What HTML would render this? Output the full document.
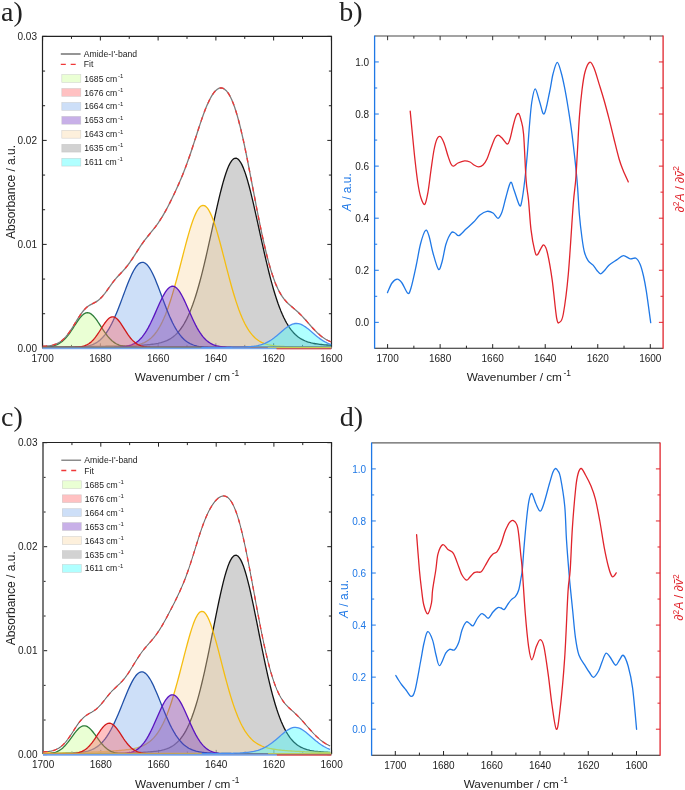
<!DOCTYPE html><html><head><meta charset="utf-8"><style>html,body{margin:0;padding:0;background:#fff;}svg{display:block;will-change:transform;}</style></head><body>
<svg width="685" height="790" viewBox="0 0 685 790" font-family='"Liberation Sans", sans-serif' fill="#222">
<rect width="685" height="790" fill="#fff"/>
<line x1="42.60" y1="347.5" x2="42.60" y2="343.3" stroke="#333" stroke-width="1"/>
<line x1="42.60" y1="36.3" x2="42.60" y2="40.5" stroke="#222" stroke-width="1"/>
<text x="42.60" y="361.70" text-anchor="middle" font-size="10">1700</text>
<line x1="71.48" y1="347.5" x2="71.48" y2="344.9" stroke="#333" stroke-width="1"/>
<line x1="71.48" y1="36.3" x2="71.48" y2="38.9" stroke="#222" stroke-width="1"/>
<line x1="100.36" y1="347.5" x2="100.36" y2="343.3" stroke="#333" stroke-width="1"/>
<line x1="100.36" y1="36.3" x2="100.36" y2="40.5" stroke="#222" stroke-width="1"/>
<text x="100.36" y="361.70" text-anchor="middle" font-size="10">1680</text>
<line x1="129.24" y1="347.5" x2="129.24" y2="344.9" stroke="#333" stroke-width="1"/>
<line x1="129.24" y1="36.3" x2="129.24" y2="38.9" stroke="#222" stroke-width="1"/>
<line x1="158.12" y1="347.5" x2="158.12" y2="343.3" stroke="#333" stroke-width="1"/>
<line x1="158.12" y1="36.3" x2="158.12" y2="40.5" stroke="#222" stroke-width="1"/>
<text x="158.12" y="361.70" text-anchor="middle" font-size="10">1660</text>
<line x1="187.00" y1="347.5" x2="187.00" y2="344.9" stroke="#333" stroke-width="1"/>
<line x1="187.00" y1="36.3" x2="187.00" y2="38.9" stroke="#222" stroke-width="1"/>
<line x1="215.88" y1="347.5" x2="215.88" y2="343.3" stroke="#333" stroke-width="1"/>
<line x1="215.88" y1="36.3" x2="215.88" y2="40.5" stroke="#222" stroke-width="1"/>
<text x="215.88" y="361.70" text-anchor="middle" font-size="10">1640</text>
<line x1="244.76" y1="347.5" x2="244.76" y2="344.9" stroke="#333" stroke-width="1"/>
<line x1="244.76" y1="36.3" x2="244.76" y2="38.9" stroke="#222" stroke-width="1"/>
<line x1="273.64" y1="347.5" x2="273.64" y2="343.3" stroke="#333" stroke-width="1"/>
<line x1="273.64" y1="36.3" x2="273.64" y2="40.5" stroke="#222" stroke-width="1"/>
<text x="273.64" y="361.70" text-anchor="middle" font-size="10">1620</text>
<line x1="302.52" y1="347.5" x2="302.52" y2="344.9" stroke="#333" stroke-width="1"/>
<line x1="302.52" y1="36.3" x2="302.52" y2="38.9" stroke="#222" stroke-width="1"/>
<line x1="331.40" y1="347.5" x2="331.40" y2="343.3" stroke="#333" stroke-width="1"/>
<line x1="331.40" y1="36.3" x2="331.40" y2="40.5" stroke="#222" stroke-width="1"/>
<text x="331.40" y="361.70" text-anchor="middle" font-size="10">1600</text>
<line x1="42.5" y1="348.40" x2="46.7" y2="348.40" stroke="#222" stroke-width="1"/>
<line x1="331.5" y1="348.40" x2="327.3" y2="348.40" stroke="#222" stroke-width="1"/>
<text x="37.00" y="352.10" text-anchor="end" font-size="10">0.00</text>
<line x1="42.5" y1="313.73" x2="45.1" y2="313.73" stroke="#222" stroke-width="1"/>
<line x1="331.5" y1="313.73" x2="328.9" y2="313.73" stroke="#222" stroke-width="1"/>
<line x1="42.5" y1="279.07" x2="45.1" y2="279.07" stroke="#222" stroke-width="1"/>
<line x1="331.5" y1="279.07" x2="328.9" y2="279.07" stroke="#222" stroke-width="1"/>
<line x1="42.5" y1="244.40" x2="46.7" y2="244.40" stroke="#222" stroke-width="1"/>
<line x1="331.5" y1="244.40" x2="327.3" y2="244.40" stroke="#222" stroke-width="1"/>
<text x="37.00" y="248.10" text-anchor="end" font-size="10">0.01</text>
<line x1="42.5" y1="209.73" x2="45.1" y2="209.73" stroke="#222" stroke-width="1"/>
<line x1="331.5" y1="209.73" x2="328.9" y2="209.73" stroke="#222" stroke-width="1"/>
<line x1="42.5" y1="175.07" x2="45.1" y2="175.07" stroke="#222" stroke-width="1"/>
<line x1="331.5" y1="175.07" x2="328.9" y2="175.07" stroke="#222" stroke-width="1"/>
<line x1="42.5" y1="140.40" x2="46.7" y2="140.40" stroke="#222" stroke-width="1"/>
<line x1="331.5" y1="140.40" x2="327.3" y2="140.40" stroke="#222" stroke-width="1"/>
<text x="37.00" y="144.10" text-anchor="end" font-size="10">0.02</text>
<line x1="42.5" y1="105.73" x2="45.1" y2="105.73" stroke="#222" stroke-width="1"/>
<line x1="331.5" y1="105.73" x2="328.9" y2="105.73" stroke="#222" stroke-width="1"/>
<line x1="42.5" y1="71.07" x2="45.1" y2="71.07" stroke="#222" stroke-width="1"/>
<line x1="331.5" y1="71.07" x2="328.9" y2="71.07" stroke="#222" stroke-width="1"/>
<line x1="42.5" y1="36.40" x2="46.7" y2="36.40" stroke="#222" stroke-width="1"/>
<line x1="331.5" y1="36.40" x2="327.3" y2="36.40" stroke="#222" stroke-width="1"/>
<text x="37.00" y="40.10" text-anchor="end" font-size="10">0.03</text>
<path d="M42.5,347.5 L42.5,36.3 L331.5,36.3 L331.5,347.5" fill="none" stroke="#222" stroke-width="1.2" stroke-linejoin="miter"/>
<clipPath id="clipa"><rect x="42.5" y="36.3" width="289.0" height="313.4"/></clipPath>
<g clip-path="url(#clipa)">
<path d="M42.60,346.93 L44.04,346.93 L45.49,346.92 L46.93,346.91 L48.38,346.90 L49.82,346.89 L51.26,346.88 L52.71,346.87 L54.15,346.86 L55.60,346.85 L57.04,346.84 L58.48,346.83 L59.93,346.82 L61.37,346.81 L62.82,346.80 L64.26,346.79 L65.70,346.77 L67.15,346.76 L68.59,346.75 L70.04,346.74 L71.48,346.72 L72.92,346.71 L74.37,346.70 L75.81,346.68 L77.26,346.67 L78.70,346.65 L80.14,346.64 L81.59,346.62 L83.03,346.61 L84.48,346.59 L85.92,346.57 L87.36,346.55 L88.81,346.54 L90.25,346.52 L91.70,346.50 L93.14,346.48 L94.58,346.46 L96.03,346.44 L97.47,346.42 L98.92,346.39 L100.36,346.37 L101.80,346.35 L103.25,346.32 L104.69,346.30 L106.14,346.27 L107.58,346.25 L109.02,346.22 L110.47,346.19 L111.91,346.16 L113.36,346.13 L114.80,346.10 L116.24,346.07 L117.69,346.03 L119.13,346.00 L120.58,345.96 L122.02,345.93 L123.46,345.89 L124.91,345.85 L126.35,345.80 L127.80,345.76 L129.24,345.71 L130.68,345.66 L132.13,345.61 L133.57,345.56 L135.02,345.50 L136.46,345.43 L137.90,345.37 L139.35,345.30 L140.79,345.22 L142.24,345.13 L143.68,345.04 L145.12,344.94 L146.57,344.83 L148.01,344.71 L149.46,344.57 L150.90,344.41 L152.34,344.24 L153.79,344.05 L155.23,343.83 L156.68,343.58 L158.12,343.30 L159.56,342.98 L161.01,342.61 L162.45,342.20 L163.90,341.73 L165.34,341.20 L166.78,340.59 L168.23,339.90 L169.67,339.12 L171.12,338.24 L172.56,337.25 L174.00,336.13 L175.45,334.88 L176.89,333.48 L178.34,331.91 L179.78,330.17 L181.22,328.24 L182.67,326.11 L184.11,323.76 L185.56,321.19 L187.00,318.37 L188.44,315.30 L189.89,311.98 L191.33,308.38 L192.78,304.52 L194.22,300.37 L195.66,295.95 L197.11,291.24 L198.55,286.27 L200.00,281.03 L201.44,275.54 L202.88,269.82 L204.33,263.87 L205.77,257.73 L207.22,251.43 L208.66,244.98 L210.10,238.44 L211.55,231.83 L212.99,225.20 L214.44,218.60 L215.88,212.08 L217.32,205.67 L218.77,199.45 L220.21,193.46 L221.66,187.77 L223.10,182.42 L224.54,177.47 L225.99,172.98 L227.43,169.01 L228.88,165.59 L230.32,162.78 L231.76,160.60 L233.21,159.10 L234.65,158.29 L236.10,158.17 L237.54,158.77 L238.98,160.06 L240.43,162.02 L241.87,164.64 L243.32,167.87 L244.76,171.67 L246.20,176.01 L247.65,180.81 L249.09,186.04 L250.54,191.64 L251.98,197.54 L253.42,203.69 L254.87,210.05 L256.31,216.54 L257.76,223.12 L259.20,229.75 L260.64,236.36 L262.09,242.93 L263.53,249.41 L264.98,255.76 L266.42,261.96 L267.86,267.97 L269.31,273.76 L270.75,279.33 L272.20,284.65 L273.64,289.71 L275.08,294.50 L276.53,299.01 L277.97,303.24 L279.42,307.20 L280.86,310.88 L282.30,314.29 L283.75,317.43 L285.19,320.33 L286.64,322.98 L288.08,325.39 L289.52,327.59 L290.97,329.58 L292.41,331.38 L293.86,333.00 L295.30,334.45 L296.74,335.75 L298.19,336.91 L299.63,337.94 L301.08,338.86 L302.52,339.66 L303.96,340.38 L305.41,341.01 L306.85,341.57 L308.30,342.06 L309.74,342.49 L311.18,342.87 L312.63,343.20 L314.07,343.49 L315.52,343.75 L316.96,343.98 L318.40,344.18 L319.85,344.36 L321.29,344.52 L322.74,344.66 L324.18,344.79 L325.62,344.91 L327.07,345.01 L328.51,345.11 L329.96,345.19 L331.40,345.27 L331.40,348.40 L42.60,348.40 Z" fill="#8e8e8e" fill-opacity="0.4" stroke="none"/>
<path d="M42.60,346.93 L44.04,346.93 L45.49,346.92 L46.93,346.91 L48.38,346.90 L49.82,346.89 L51.26,346.88 L52.71,346.87 L54.15,346.86 L55.60,346.85 L57.04,346.84 L58.48,346.83 L59.93,346.82 L61.37,346.81 L62.82,346.80 L64.26,346.79 L65.70,346.77 L67.15,346.76 L68.59,346.75 L70.04,346.74 L71.48,346.72 L72.92,346.71 L74.37,346.70 L75.81,346.68 L77.26,346.67 L78.70,346.65 L80.14,346.64 L81.59,346.62 L83.03,346.61 L84.48,346.59 L85.92,346.57 L87.36,346.55 L88.81,346.54 L90.25,346.52 L91.70,346.50 L93.14,346.48 L94.58,346.46 L96.03,346.44 L97.47,346.42 L98.92,346.39 L100.36,346.37 L101.80,346.35 L103.25,346.32 L104.69,346.30 L106.14,346.27 L107.58,346.25 L109.02,346.22 L110.47,346.19 L111.91,346.16 L113.36,346.13 L114.80,346.10 L116.24,346.07 L117.69,346.03 L119.13,346.00 L120.58,345.96 L122.02,345.93 L123.46,345.89 L124.91,345.85 L126.35,345.80 L127.80,345.76 L129.24,345.71 L130.68,345.66 L132.13,345.61 L133.57,345.56 L135.02,345.50 L136.46,345.43 L137.90,345.37 L139.35,345.30 L140.79,345.22 L142.24,345.13 L143.68,345.04 L145.12,344.94 L146.57,344.83 L148.01,344.71 L149.46,344.57 L150.90,344.41 L152.34,344.24 L153.79,344.05 L155.23,343.83 L156.68,343.58 L158.12,343.30 L159.56,342.98 L161.01,342.61 L162.45,342.20 L163.90,341.73 L165.34,341.20 L166.78,340.59 L168.23,339.90 L169.67,339.12 L171.12,338.24 L172.56,337.25 L174.00,336.13 L175.45,334.88 L176.89,333.48 L178.34,331.91 L179.78,330.17 L181.22,328.24 L182.67,326.11 L184.11,323.76 L185.56,321.19 L187.00,318.37 L188.44,315.30 L189.89,311.98 L191.33,308.38 L192.78,304.52 L194.22,300.37 L195.66,295.95 L197.11,291.24 L198.55,286.27 L200.00,281.03 L201.44,275.54 L202.88,269.82 L204.33,263.87 L205.77,257.73 L207.22,251.43 L208.66,244.98 L210.10,238.44 L211.55,231.83 L212.99,225.20 L214.44,218.60 L215.88,212.08 L217.32,205.67 L218.77,199.45 L220.21,193.46 L221.66,187.77 L223.10,182.42 L224.54,177.47 L225.99,172.98 L227.43,169.01 L228.88,165.59 L230.32,162.78 L231.76,160.60 L233.21,159.10 L234.65,158.29 L236.10,158.17 L237.54,158.77 L238.98,160.06 L240.43,162.02 L241.87,164.64 L243.32,167.87 L244.76,171.67 L246.20,176.01 L247.65,180.81 L249.09,186.04 L250.54,191.64 L251.98,197.54 L253.42,203.69 L254.87,210.05 L256.31,216.54 L257.76,223.12 L259.20,229.75 L260.64,236.36 L262.09,242.93 L263.53,249.41 L264.98,255.76 L266.42,261.96 L267.86,267.97 L269.31,273.76 L270.75,279.33 L272.20,284.65 L273.64,289.71 L275.08,294.50 L276.53,299.01 L277.97,303.24 L279.42,307.20 L280.86,310.88 L282.30,314.29 L283.75,317.43 L285.19,320.33 L286.64,322.98 L288.08,325.39 L289.52,327.59 L290.97,329.58 L292.41,331.38 L293.86,333.00 L295.30,334.45 L296.74,335.75 L298.19,336.91 L299.63,337.94 L301.08,338.86 L302.52,339.66 L303.96,340.38 L305.41,341.01 L306.85,341.57 L308.30,342.06 L309.74,342.49 L311.18,342.87 L312.63,343.20 L314.07,343.49 L315.52,343.75 L316.96,343.98 L318.40,344.18 L319.85,344.36 L321.29,344.52 L322.74,344.66 L324.18,344.79 L325.62,344.91 L327.07,345.01 L328.51,345.11 L329.96,345.19 L331.40,345.27" fill="none" stroke="#111111" stroke-width="1.3" stroke-linejoin="round"/>
<path d="M42.60,347.27 L44.04,347.27 L45.49,347.26 L46.93,347.26 L48.38,347.25 L49.82,347.25 L51.26,347.25 L52.71,347.24 L54.15,347.24 L55.60,347.23 L57.04,347.23 L58.48,347.22 L59.93,347.21 L61.37,347.21 L62.82,347.20 L64.26,347.20 L65.70,347.19 L67.15,347.18 L68.59,347.18 L70.04,347.17 L71.48,347.16 L72.92,347.16 L74.37,347.15 L75.81,347.14 L77.26,347.13 L78.70,347.13 L80.14,347.12 L81.59,347.11 L83.03,347.10 L84.48,347.09 L85.92,347.08 L87.36,347.07 L88.81,347.06 L90.25,347.05 L91.70,347.04 L93.14,347.03 L94.58,347.01 L96.03,347.00 L97.47,346.99 L98.92,346.97 L100.36,346.96 L101.80,346.94 L103.25,346.93 L104.69,346.91 L106.14,346.89 L107.58,346.87 L109.02,346.85 L110.47,346.83 L111.91,346.81 L113.36,346.78 L114.80,346.75 L116.24,346.72 L117.69,346.68 L119.13,346.64 L120.58,346.59 L122.02,346.53 L123.46,346.47 L124.91,346.39 L126.35,346.31 L127.80,346.20 L129.24,346.08 L130.68,345.94 L132.13,345.77 L133.57,345.57 L135.02,345.34 L136.46,345.07 L137.90,344.75 L139.35,344.37 L140.79,343.93 L142.24,343.41 L143.68,342.81 L145.12,342.12 L146.57,341.32 L148.01,340.40 L149.46,339.34 L150.90,338.14 L152.34,336.78 L153.79,335.24 L155.23,333.51 L156.68,331.57 L158.12,329.41 L159.56,327.02 L161.01,324.39 L162.45,321.50 L163.90,318.35 L165.34,314.93 L166.78,311.24 L168.23,307.28 L169.67,303.06 L171.12,298.59 L172.56,293.87 L174.00,288.93 L175.45,283.79 L176.89,278.48 L178.34,273.03 L179.78,267.47 L181.22,261.85 L182.67,256.22 L184.11,250.62 L185.56,245.11 L187.00,239.73 L188.44,234.56 L189.89,229.64 L191.33,225.03 L192.78,220.79 L194.22,216.97 L195.66,213.62 L197.11,210.79 L198.55,208.52 L200.00,206.85 L201.44,205.79 L202.88,205.36 L204.33,205.57 L205.77,206.42 L207.22,207.89 L208.66,209.97 L210.10,212.61 L211.55,215.79 L212.99,219.45 L214.44,223.56 L215.88,228.05 L217.32,232.88 L218.77,237.97 L220.21,243.29 L221.66,248.76 L223.10,254.33 L224.54,259.96 L225.99,265.59 L227.43,271.17 L228.88,276.66 L230.32,282.03 L231.76,287.23 L233.21,292.24 L234.65,297.03 L236.10,301.59 L237.54,305.90 L238.98,309.94 L240.43,313.72 L241.87,317.23 L243.32,320.47 L244.76,323.45 L246.20,326.17 L247.65,328.64 L249.09,330.87 L250.54,332.88 L251.98,334.68 L253.42,336.28 L254.87,337.70 L256.31,338.96 L257.76,340.06 L259.20,341.02 L260.64,341.86 L262.09,342.59 L263.53,343.22 L264.98,343.76 L266.42,344.23 L267.86,344.63 L269.31,344.97 L270.75,345.25 L272.20,345.50 L273.64,345.71 L275.08,345.89 L276.53,346.04 L277.97,346.16 L279.42,346.27 L280.86,346.36 L282.30,346.44 L283.75,346.51 L285.19,346.57 L286.64,346.62 L288.08,346.66 L289.52,346.70 L290.97,346.74 L292.41,346.77 L293.86,346.80 L295.30,346.82 L296.74,346.84 L298.19,346.87 L299.63,346.89 L301.08,346.90 L302.52,346.92 L303.96,346.94 L305.41,346.95 L306.85,346.97 L308.30,346.98 L309.74,347.00 L311.18,347.01 L312.63,347.02 L314.07,347.03 L315.52,347.04 L316.96,347.06 L318.40,347.07 L319.85,347.08 L321.29,347.09 L322.74,347.10 L324.18,347.11 L325.62,347.11 L327.07,347.12 L328.51,347.13 L329.96,347.14 L331.40,347.15 L331.40,348.40 L42.60,348.40 Z" fill="#fad9a7" fill-opacity="0.4" stroke="none"/>
<path d="M42.60,347.27 L44.04,347.27 L45.49,347.26 L46.93,347.26 L48.38,347.25 L49.82,347.25 L51.26,347.25 L52.71,347.24 L54.15,347.24 L55.60,347.23 L57.04,347.23 L58.48,347.22 L59.93,347.21 L61.37,347.21 L62.82,347.20 L64.26,347.20 L65.70,347.19 L67.15,347.18 L68.59,347.18 L70.04,347.17 L71.48,347.16 L72.92,347.16 L74.37,347.15 L75.81,347.14 L77.26,347.13 L78.70,347.13 L80.14,347.12 L81.59,347.11 L83.03,347.10 L84.48,347.09 L85.92,347.08 L87.36,347.07 L88.81,347.06 L90.25,347.05 L91.70,347.04 L93.14,347.03 L94.58,347.01 L96.03,347.00 L97.47,346.99 L98.92,346.97 L100.36,346.96 L101.80,346.94 L103.25,346.93 L104.69,346.91 L106.14,346.89 L107.58,346.87 L109.02,346.85 L110.47,346.83 L111.91,346.81 L113.36,346.78 L114.80,346.75 L116.24,346.72 L117.69,346.68 L119.13,346.64 L120.58,346.59 L122.02,346.53 L123.46,346.47 L124.91,346.39 L126.35,346.31 L127.80,346.20 L129.24,346.08 L130.68,345.94 L132.13,345.77 L133.57,345.57 L135.02,345.34 L136.46,345.07 L137.90,344.75 L139.35,344.37 L140.79,343.93 L142.24,343.41 L143.68,342.81 L145.12,342.12 L146.57,341.32 L148.01,340.40 L149.46,339.34 L150.90,338.14 L152.34,336.78 L153.79,335.24 L155.23,333.51 L156.68,331.57 L158.12,329.41 L159.56,327.02 L161.01,324.39 L162.45,321.50 L163.90,318.35 L165.34,314.93 L166.78,311.24 L168.23,307.28 L169.67,303.06 L171.12,298.59 L172.56,293.87 L174.00,288.93 L175.45,283.79 L176.89,278.48 L178.34,273.03 L179.78,267.47 L181.22,261.85 L182.67,256.22 L184.11,250.62 L185.56,245.11 L187.00,239.73 L188.44,234.56 L189.89,229.64 L191.33,225.03 L192.78,220.79 L194.22,216.97 L195.66,213.62 L197.11,210.79 L198.55,208.52 L200.00,206.85 L201.44,205.79 L202.88,205.36 L204.33,205.57 L205.77,206.42 L207.22,207.89 L208.66,209.97 L210.10,212.61 L211.55,215.79 L212.99,219.45 L214.44,223.56 L215.88,228.05 L217.32,232.88 L218.77,237.97 L220.21,243.29 L221.66,248.76 L223.10,254.33 L224.54,259.96 L225.99,265.59 L227.43,271.17 L228.88,276.66 L230.32,282.03 L231.76,287.23 L233.21,292.24 L234.65,297.03 L236.10,301.59 L237.54,305.90 L238.98,309.94 L240.43,313.72 L241.87,317.23 L243.32,320.47 L244.76,323.45 L246.20,326.17 L247.65,328.64 L249.09,330.87 L250.54,332.88 L251.98,334.68 L253.42,336.28 L254.87,337.70 L256.31,338.96 L257.76,340.06 L259.20,341.02 L260.64,341.86 L262.09,342.59 L263.53,343.22 L264.98,343.76 L266.42,344.23 L267.86,344.63 L269.31,344.97 L270.75,345.25 L272.20,345.50 L273.64,345.71 L275.08,345.89 L276.53,346.04 L277.97,346.16 L279.42,346.27 L280.86,346.36 L282.30,346.44 L283.75,346.51 L285.19,346.57 L286.64,346.62 L288.08,346.66 L289.52,346.70 L290.97,346.74 L292.41,346.77 L293.86,346.80 L295.30,346.82 L296.74,346.84 L298.19,346.87 L299.63,346.89 L301.08,346.90 L302.52,346.92 L303.96,346.94 L305.41,346.95 L306.85,346.97 L308.30,346.98 L309.74,347.00 L311.18,347.01 L312.63,347.02 L314.07,347.03 L315.52,347.04 L316.96,347.06 L318.40,347.07 L319.85,347.08 L321.29,347.09 L322.74,347.10 L324.18,347.11 L325.62,347.11 L327.07,347.12 L328.51,347.13 L329.96,347.14 L331.40,347.15" fill="none" stroke="#f5bd10" stroke-width="1.3" stroke-linejoin="round"/>
<path d="M42.60,347.50 L44.04,347.50 L45.49,347.50 L46.93,347.50 L48.38,347.50 L49.82,347.50 L51.26,347.50 L52.71,347.50 L54.15,347.50 L55.60,347.50 L57.04,347.50 L58.48,347.49 L59.93,347.49 L61.37,347.49 L62.82,347.48 L64.26,347.48 L65.70,347.47 L67.15,347.46 L68.59,347.45 L70.04,347.43 L71.48,347.41 L72.92,347.38 L74.37,347.34 L75.81,347.29 L77.26,347.23 L78.70,347.15 L80.14,347.05 L81.59,346.93 L83.03,346.78 L84.48,346.59 L85.92,346.36 L87.36,346.08 L88.81,345.75 L90.25,345.35 L91.70,344.87 L93.14,344.30 L94.58,343.63 L96.03,342.85 L97.47,341.94 L98.92,340.90 L100.36,339.70 L101.80,338.33 L103.25,336.78 L104.69,335.04 L106.14,333.11 L107.58,330.96 L109.02,328.60 L110.47,326.03 L111.91,323.25 L113.36,320.26 L114.80,317.07 L116.24,313.70 L117.69,310.17 L119.13,306.50 L120.58,302.72 L122.02,298.88 L123.46,295.00 L124.91,291.12 L126.35,287.31 L127.80,283.60 L129.24,280.04 L130.68,276.68 L132.13,273.58 L133.57,270.77 L135.02,268.30 L136.46,266.22 L137.90,264.55 L139.35,263.33 L140.79,262.56 L142.24,262.28 L143.68,262.47 L145.12,263.14 L146.57,264.27 L148.01,265.86 L149.46,267.86 L150.90,270.25 L152.34,273.00 L153.79,276.05 L155.23,279.36 L156.68,282.88 L158.12,286.57 L159.56,290.37 L161.01,294.23 L162.45,298.11 L163.90,301.97 L165.34,305.76 L166.78,309.45 L168.23,313.01 L169.67,316.42 L171.12,319.64 L172.56,322.67 L174.00,325.50 L175.45,328.11 L176.89,330.51 L178.34,332.70 L179.78,334.68 L181.22,336.45 L182.67,338.04 L184.11,339.44 L185.56,340.67 L187.00,341.75 L188.44,342.68 L189.89,343.49 L191.33,344.18 L192.78,344.76 L194.22,345.26 L195.66,345.68 L197.11,346.02 L198.55,346.31 L200.00,346.55 L201.44,346.74 L202.88,346.90 L204.33,347.03 L205.77,347.13 L207.22,347.21 L208.66,347.28 L210.10,347.33 L211.55,347.37 L212.99,347.40 L214.44,347.42 L215.88,347.44 L217.32,347.46 L218.77,347.47 L220.21,347.48 L221.66,347.48 L223.10,347.49 L224.54,347.49 L225.99,347.49 L227.43,347.50 L228.88,347.50 L230.32,347.50 L231.76,347.50 L233.21,347.50 L234.65,347.50 L236.10,347.50 L237.54,347.50 L238.98,347.50 L240.43,347.50 L241.87,347.50 L243.32,347.50 L244.76,347.50 L246.20,347.50 L247.65,347.50 L249.09,347.50 L250.54,347.50 L251.98,347.50 L253.42,347.50 L254.87,347.50 L256.31,347.50 L257.76,347.50 L259.20,347.50 L260.64,347.50 L262.09,347.50 L263.53,347.50 L264.98,347.50 L266.42,347.50 L267.86,347.50 L269.31,347.50 L270.75,347.50 L272.20,347.50 L273.64,347.50 L275.08,347.50 L276.53,347.50 L277.97,347.50 L279.42,347.50 L280.86,347.50 L282.30,347.50 L283.75,347.50 L285.19,347.50 L286.64,347.50 L288.08,347.50 L289.52,347.50 L290.97,347.50 L292.41,347.50 L293.86,347.50 L295.30,347.50 L296.74,347.50 L298.19,347.50 L299.63,347.50 L301.08,347.50 L302.52,347.50 L303.96,347.50 L305.41,347.50 L306.85,347.50 L308.30,347.50 L309.74,347.50 L311.18,347.50 L312.63,347.50 L314.07,347.50 L315.52,347.50 L316.96,347.50 L318.40,347.50 L319.85,347.50 L321.29,347.50 L322.74,347.50 L324.18,347.50 L325.62,347.50 L327.07,347.50 L328.51,347.50 L329.96,347.50 L331.40,347.50 L331.40,348.40 L42.60,348.40 Z" fill="#82afee" fill-opacity="0.4" stroke="none"/>
<path d="M42.60,347.50 L44.04,347.50 L45.49,347.50 L46.93,347.50 L48.38,347.50 L49.82,347.50 L51.26,347.50 L52.71,347.50 L54.15,347.50 L55.60,347.50 L57.04,347.50 L58.48,347.49 L59.93,347.49 L61.37,347.49 L62.82,347.48 L64.26,347.48 L65.70,347.47 L67.15,347.46 L68.59,347.45 L70.04,347.43 L71.48,347.41 L72.92,347.38 L74.37,347.34 L75.81,347.29 L77.26,347.23 L78.70,347.15 L80.14,347.05 L81.59,346.93 L83.03,346.78 L84.48,346.59 L85.92,346.36 L87.36,346.08 L88.81,345.75 L90.25,345.35 L91.70,344.87 L93.14,344.30 L94.58,343.63 L96.03,342.85 L97.47,341.94 L98.92,340.90 L100.36,339.70 L101.80,338.33 L103.25,336.78 L104.69,335.04 L106.14,333.11 L107.58,330.96 L109.02,328.60 L110.47,326.03 L111.91,323.25 L113.36,320.26 L114.80,317.07 L116.24,313.70 L117.69,310.17 L119.13,306.50 L120.58,302.72 L122.02,298.88 L123.46,295.00 L124.91,291.12 L126.35,287.31 L127.80,283.60 L129.24,280.04 L130.68,276.68 L132.13,273.58 L133.57,270.77 L135.02,268.30 L136.46,266.22 L137.90,264.55 L139.35,263.33 L140.79,262.56 L142.24,262.28 L143.68,262.47 L145.12,263.14 L146.57,264.27 L148.01,265.86 L149.46,267.86 L150.90,270.25 L152.34,273.00 L153.79,276.05 L155.23,279.36 L156.68,282.88 L158.12,286.57 L159.56,290.37 L161.01,294.23 L162.45,298.11 L163.90,301.97 L165.34,305.76 L166.78,309.45 L168.23,313.01 L169.67,316.42 L171.12,319.64 L172.56,322.67 L174.00,325.50 L175.45,328.11 L176.89,330.51 L178.34,332.70 L179.78,334.68 L181.22,336.45 L182.67,338.04 L184.11,339.44 L185.56,340.67 L187.00,341.75 L188.44,342.68 L189.89,343.49 L191.33,344.18 L192.78,344.76 L194.22,345.26 L195.66,345.68 L197.11,346.02 L198.55,346.31 L200.00,346.55 L201.44,346.74 L202.88,346.90 L204.33,347.03 L205.77,347.13 L207.22,347.21 L208.66,347.28 L210.10,347.33 L211.55,347.37 L212.99,347.40 L214.44,347.42 L215.88,347.44 L217.32,347.46 L218.77,347.47 L220.21,347.48 L221.66,347.48 L223.10,347.49 L224.54,347.49 L225.99,347.49 L227.43,347.50 L228.88,347.50 L230.32,347.50 L231.76,347.50 L233.21,347.50 L234.65,347.50 L236.10,347.50 L237.54,347.50 L238.98,347.50 L240.43,347.50 L241.87,347.50 L243.32,347.50 L244.76,347.50 L246.20,347.50 L247.65,347.50 L249.09,347.50 L250.54,347.50 L251.98,347.50 L253.42,347.50 L254.87,347.50 L256.31,347.50 L257.76,347.50 L259.20,347.50 L260.64,347.50 L262.09,347.50 L263.53,347.50 L264.98,347.50 L266.42,347.50 L267.86,347.50 L269.31,347.50 L270.75,347.50 L272.20,347.50 L273.64,347.50 L275.08,347.50 L276.53,347.50 L277.97,347.50 L279.42,347.50 L280.86,347.50 L282.30,347.50 L283.75,347.50 L285.19,347.50 L286.64,347.50 L288.08,347.50 L289.52,347.50 L290.97,347.50 L292.41,347.50 L293.86,347.50 L295.30,347.50 L296.74,347.50 L298.19,347.50 L299.63,347.50 L301.08,347.50 L302.52,347.50 L303.96,347.50 L305.41,347.50 L306.85,347.50 L308.30,347.50 L309.74,347.50 L311.18,347.50 L312.63,347.50 L314.07,347.50 L315.52,347.50 L316.96,347.50 L318.40,347.50 L319.85,347.50 L321.29,347.50 L322.74,347.50 L324.18,347.50 L325.62,347.50 L327.07,347.50 L328.51,347.50 L329.96,347.50 L331.40,347.50" fill="none" stroke="#2050a8" stroke-width="1.3" stroke-linejoin="round"/>
<path d="M42.60,347.14 L44.04,347.08 L45.49,346.99 L46.93,346.88 L48.38,346.74 L49.82,346.55 L51.26,346.31 L52.71,346.01 L54.15,345.63 L55.60,345.16 L57.04,344.58 L58.48,343.88 L59.93,343.04 L61.37,342.05 L62.82,340.89 L64.26,339.57 L65.70,338.07 L67.15,336.39 L68.59,334.55 L70.04,332.57 L71.48,330.46 L72.92,328.27 L74.37,326.02 L75.81,323.78 L77.26,321.60 L78.70,319.53 L80.14,317.63 L81.59,315.98 L83.03,314.61 L84.48,313.58 L85.92,312.93 L87.36,312.69 L88.81,312.86 L90.25,313.44 L91.70,314.41 L93.14,315.72 L94.58,317.34 L96.03,319.20 L97.47,321.24 L98.92,323.41 L100.36,325.65 L101.80,327.89 L103.25,330.10 L104.69,332.22 L106.14,334.23 L107.58,336.09 L109.02,337.80 L110.47,339.33 L111.91,340.68 L113.36,341.87 L114.80,342.89 L116.24,343.75 L117.69,344.47 L119.13,345.07 L120.58,345.56 L122.02,345.95 L123.46,346.27 L124.91,346.51 L126.35,346.71 L127.80,346.86 L129.24,346.97 L130.68,347.06 L132.13,347.13 L133.57,347.18 L135.02,347.22 L136.46,347.25 L137.90,347.28 L139.35,347.30 L140.79,347.31 L142.24,347.32 L143.68,347.33 L145.12,347.34 L146.57,347.35 L148.01,347.36 L149.46,347.37 L150.90,347.37 L152.34,347.38 L153.79,347.38 L155.23,347.39 L156.68,347.39 L158.12,347.40 L159.56,347.40 L161.01,347.40 L162.45,347.41 L163.90,347.41 L165.34,347.41 L166.78,347.42 L168.23,347.42 L169.67,347.42 L171.12,347.42 L172.56,347.43 L174.00,347.43 L175.45,347.43 L176.89,347.43 L178.34,347.44 L179.78,347.44 L181.22,347.44 L182.67,347.44 L184.11,347.44 L185.56,347.44 L187.00,347.45 L188.44,347.45 L189.89,347.45 L191.33,347.45 L192.78,347.45 L194.22,347.45 L195.66,347.45 L197.11,347.46 L198.55,347.46 L200.00,347.46 L201.44,347.46 L202.88,347.46 L204.33,347.46 L205.77,347.46 L207.22,347.46 L208.66,347.46 L210.10,347.46 L211.55,347.47 L212.99,347.47 L214.44,347.47 L215.88,347.47 L217.32,347.47 L218.77,347.47 L220.21,347.47 L221.66,347.47 L223.10,347.47 L224.54,347.47 L225.99,347.47 L227.43,347.47 L228.88,347.47 L230.32,347.47 L231.76,347.47 L233.21,347.47 L234.65,347.48 L236.10,347.48 L237.54,347.48 L238.98,347.48 L240.43,347.48 L241.87,347.48 L243.32,347.48 L244.76,347.48 L246.20,347.48 L247.65,347.48 L249.09,347.48 L250.54,347.48 L251.98,347.48 L253.42,347.48 L254.87,347.48 L256.31,347.48 L257.76,347.48 L259.20,347.48 L260.64,347.48 L262.09,347.48 L263.53,347.48 L264.98,347.48 L266.42,347.48 L267.86,347.48 L269.31,347.48 L270.75,347.48 L272.20,347.48 L273.64,347.48 L275.08,347.48 L276.53,347.48 L277.97,347.49 L279.42,347.49 L280.86,347.49 L282.30,347.49 L283.75,347.49 L285.19,347.49 L286.64,347.49 L288.08,347.49 L289.52,347.49 L290.97,347.49 L292.41,347.49 L293.86,347.49 L295.30,347.49 L296.74,347.49 L298.19,347.49 L299.63,347.49 L301.08,347.49 L302.52,347.49 L303.96,347.49 L305.41,347.49 L306.85,347.49 L308.30,347.49 L309.74,347.49 L311.18,347.49 L312.63,347.49 L314.07,347.49 L315.52,347.49 L316.96,347.49 L318.40,347.49 L319.85,347.49 L321.29,347.49 L322.74,347.49 L324.18,347.49 L325.62,347.49 L327.07,347.49 L328.51,347.49 L329.96,347.49 L331.40,347.49 L331.40,348.40 L42.60,348.40 Z" fill="#cbff93" fill-opacity="0.4" stroke="none"/>
<path d="M42.60,347.14 L44.04,347.08 L45.49,346.99 L46.93,346.88 L48.38,346.74 L49.82,346.55 L51.26,346.31 L52.71,346.01 L54.15,345.63 L55.60,345.16 L57.04,344.58 L58.48,343.88 L59.93,343.04 L61.37,342.05 L62.82,340.89 L64.26,339.57 L65.70,338.07 L67.15,336.39 L68.59,334.55 L70.04,332.57 L71.48,330.46 L72.92,328.27 L74.37,326.02 L75.81,323.78 L77.26,321.60 L78.70,319.53 L80.14,317.63 L81.59,315.98 L83.03,314.61 L84.48,313.58 L85.92,312.93 L87.36,312.69 L88.81,312.86 L90.25,313.44 L91.70,314.41 L93.14,315.72 L94.58,317.34 L96.03,319.20 L97.47,321.24 L98.92,323.41 L100.36,325.65 L101.80,327.89 L103.25,330.10 L104.69,332.22 L106.14,334.23 L107.58,336.09 L109.02,337.80 L110.47,339.33 L111.91,340.68 L113.36,341.87 L114.80,342.89 L116.24,343.75 L117.69,344.47 L119.13,345.07 L120.58,345.56 L122.02,345.95 L123.46,346.27 L124.91,346.51 L126.35,346.71 L127.80,346.86 L129.24,346.97 L130.68,347.06 L132.13,347.13 L133.57,347.18 L135.02,347.22 L136.46,347.25 L137.90,347.28 L139.35,347.30 L140.79,347.31 L142.24,347.32 L143.68,347.33 L145.12,347.34 L146.57,347.35 L148.01,347.36 L149.46,347.37 L150.90,347.37 L152.34,347.38 L153.79,347.38 L155.23,347.39 L156.68,347.39 L158.12,347.40 L159.56,347.40 L161.01,347.40 L162.45,347.41 L163.90,347.41 L165.34,347.41 L166.78,347.42 L168.23,347.42 L169.67,347.42 L171.12,347.42 L172.56,347.43 L174.00,347.43 L175.45,347.43 L176.89,347.43 L178.34,347.44 L179.78,347.44 L181.22,347.44 L182.67,347.44 L184.11,347.44 L185.56,347.44 L187.00,347.45 L188.44,347.45 L189.89,347.45 L191.33,347.45 L192.78,347.45 L194.22,347.45 L195.66,347.45 L197.11,347.46 L198.55,347.46 L200.00,347.46 L201.44,347.46 L202.88,347.46 L204.33,347.46 L205.77,347.46 L207.22,347.46 L208.66,347.46 L210.10,347.46 L211.55,347.47 L212.99,347.47 L214.44,347.47 L215.88,347.47 L217.32,347.47 L218.77,347.47 L220.21,347.47 L221.66,347.47 L223.10,347.47 L224.54,347.47 L225.99,347.47 L227.43,347.47 L228.88,347.47 L230.32,347.47 L231.76,347.47 L233.21,347.47 L234.65,347.48 L236.10,347.48 L237.54,347.48 L238.98,347.48 L240.43,347.48 L241.87,347.48 L243.32,347.48 L244.76,347.48 L246.20,347.48 L247.65,347.48 L249.09,347.48 L250.54,347.48 L251.98,347.48 L253.42,347.48 L254.87,347.48 L256.31,347.48 L257.76,347.48 L259.20,347.48 L260.64,347.48 L262.09,347.48 L263.53,347.48 L264.98,347.48 L266.42,347.48 L267.86,347.48 L269.31,347.48 L270.75,347.48 L272.20,347.48 L273.64,347.48 L275.08,347.48 L276.53,347.48 L277.97,347.49 L279.42,347.49 L280.86,347.49 L282.30,347.49 L283.75,347.49 L285.19,347.49 L286.64,347.49 L288.08,347.49 L289.52,347.49 L290.97,347.49 L292.41,347.49 L293.86,347.49 L295.30,347.49 L296.74,347.49 L298.19,347.49 L299.63,347.49 L301.08,347.49 L302.52,347.49 L303.96,347.49 L305.41,347.49 L306.85,347.49 L308.30,347.49 L309.74,347.49 L311.18,347.49 L312.63,347.49 L314.07,347.49 L315.52,347.49 L316.96,347.49 L318.40,347.49 L319.85,347.49 L321.29,347.49 L322.74,347.49 L324.18,347.49 L325.62,347.49 L327.07,347.49 L328.51,347.49 L329.96,347.49 L331.40,347.49" fill="none" stroke="#2e7d3a" stroke-width="1.3" stroke-linejoin="round"/>
<path d="M42.60,347.47 L44.04,347.47 L45.49,347.47 L46.93,347.47 L48.38,347.47 L49.82,347.47 L51.26,347.46 L52.71,347.46 L54.15,347.46 L55.60,347.46 L57.04,347.46 L58.48,347.46 L59.93,347.46 L61.37,347.46 L62.82,347.46 L64.26,347.46 L65.70,347.45 L67.15,347.45 L68.59,347.45 L70.04,347.45 L71.48,347.45 L72.92,347.45 L74.37,347.45 L75.81,347.45 L77.26,347.44 L78.70,347.44 L80.14,347.44 L81.59,347.44 L83.03,347.44 L84.48,347.43 L85.92,347.43 L87.36,347.43 L88.81,347.43 L90.25,347.43 L91.70,347.42 L93.14,347.42 L94.58,347.42 L96.03,347.41 L97.47,347.41 L98.92,347.41 L100.36,347.40 L101.80,347.40 L103.25,347.39 L104.69,347.38 L106.14,347.38 L107.58,347.36 L109.02,347.35 L110.47,347.34 L111.91,347.31 L113.36,347.29 L114.80,347.25 L116.24,347.21 L117.69,347.15 L119.13,347.08 L120.58,346.98 L122.02,346.86 L123.46,346.71 L124.91,346.52 L126.35,346.28 L127.80,345.98 L129.24,345.61 L130.68,345.16 L132.13,344.61 L133.57,343.95 L135.02,343.17 L136.46,342.24 L137.90,341.16 L139.35,339.90 L140.79,338.45 L142.24,336.81 L143.68,334.96 L145.12,332.89 L146.57,330.61 L148.01,328.12 L149.46,325.43 L150.90,322.56 L152.34,319.52 L153.79,316.37 L155.23,313.12 L156.68,309.83 L158.12,306.54 L159.56,303.32 L161.01,300.21 L162.45,297.27 L163.90,294.58 L165.34,292.18 L166.78,290.12 L168.23,288.47 L169.67,287.25 L171.12,286.49 L172.56,286.22 L174.00,286.43 L175.45,287.14 L176.89,288.31 L178.34,289.92 L179.78,291.93 L181.22,294.30 L182.67,296.97 L184.11,299.88 L185.56,302.97 L187.00,306.19 L188.44,309.47 L189.89,312.76 L191.33,316.02 L192.78,319.18 L194.22,322.23 L195.66,325.12 L197.11,327.83 L198.55,330.35 L200.00,332.65 L201.44,334.74 L202.88,336.62 L204.33,338.28 L205.77,339.75 L207.22,341.03 L208.66,342.13 L210.10,343.07 L211.55,343.87 L212.99,344.54 L214.44,345.10 L215.88,345.56 L217.32,345.94 L218.77,346.25 L220.21,346.50 L221.66,346.69 L223.10,346.85 L224.54,346.97 L225.99,347.07 L227.43,347.15 L228.88,347.20 L230.32,347.25 L231.76,347.28 L233.21,347.31 L234.65,347.33 L236.10,347.35 L237.54,347.36 L238.98,347.37 L240.43,347.38 L241.87,347.39 L243.32,347.40 L244.76,347.40 L246.20,347.41 L247.65,347.41 L249.09,347.41 L250.54,347.42 L251.98,347.42 L253.42,347.42 L254.87,347.42 L256.31,347.43 L257.76,347.43 L259.20,347.43 L260.64,347.43 L262.09,347.44 L263.53,347.44 L264.98,347.44 L266.42,347.44 L267.86,347.44 L269.31,347.44 L270.75,347.45 L272.20,347.45 L273.64,347.45 L275.08,347.45 L276.53,347.45 L277.97,347.45 L279.42,347.45 L280.86,347.46 L282.30,347.46 L283.75,347.46 L285.19,347.46 L286.64,347.46 L288.08,347.46 L289.52,347.46 L290.97,347.46 L292.41,347.46 L293.86,347.46 L295.30,347.47 L296.74,347.47 L298.19,347.47 L299.63,347.47 L301.08,347.47 L302.52,347.47 L303.96,347.47 L305.41,347.47 L306.85,347.47 L308.30,347.47 L309.74,347.47 L311.18,347.47 L312.63,347.47 L314.07,347.47 L315.52,347.47 L316.96,347.47 L318.40,347.48 L319.85,347.48 L321.29,347.48 L322.74,347.48 L324.18,347.48 L325.62,347.48 L327.07,347.48 L328.51,347.48 L329.96,347.48 L331.40,347.48 L331.40,348.40 L42.60,348.40 Z" fill="#7539c5" fill-opacity="0.4" stroke="none"/>
<path d="M42.60,347.47 L44.04,347.47 L45.49,347.47 L46.93,347.47 L48.38,347.47 L49.82,347.47 L51.26,347.46 L52.71,347.46 L54.15,347.46 L55.60,347.46 L57.04,347.46 L58.48,347.46 L59.93,347.46 L61.37,347.46 L62.82,347.46 L64.26,347.46 L65.70,347.45 L67.15,347.45 L68.59,347.45 L70.04,347.45 L71.48,347.45 L72.92,347.45 L74.37,347.45 L75.81,347.45 L77.26,347.44 L78.70,347.44 L80.14,347.44 L81.59,347.44 L83.03,347.44 L84.48,347.43 L85.92,347.43 L87.36,347.43 L88.81,347.43 L90.25,347.43 L91.70,347.42 L93.14,347.42 L94.58,347.42 L96.03,347.41 L97.47,347.41 L98.92,347.41 L100.36,347.40 L101.80,347.40 L103.25,347.39 L104.69,347.38 L106.14,347.38 L107.58,347.36 L109.02,347.35 L110.47,347.34 L111.91,347.31 L113.36,347.29 L114.80,347.25 L116.24,347.21 L117.69,347.15 L119.13,347.08 L120.58,346.98 L122.02,346.86 L123.46,346.71 L124.91,346.52 L126.35,346.28 L127.80,345.98 L129.24,345.61 L130.68,345.16 L132.13,344.61 L133.57,343.95 L135.02,343.17 L136.46,342.24 L137.90,341.16 L139.35,339.90 L140.79,338.45 L142.24,336.81 L143.68,334.96 L145.12,332.89 L146.57,330.61 L148.01,328.12 L149.46,325.43 L150.90,322.56 L152.34,319.52 L153.79,316.37 L155.23,313.12 L156.68,309.83 L158.12,306.54 L159.56,303.32 L161.01,300.21 L162.45,297.27 L163.90,294.58 L165.34,292.18 L166.78,290.12 L168.23,288.47 L169.67,287.25 L171.12,286.49 L172.56,286.22 L174.00,286.43 L175.45,287.14 L176.89,288.31 L178.34,289.92 L179.78,291.93 L181.22,294.30 L182.67,296.97 L184.11,299.88 L185.56,302.97 L187.00,306.19 L188.44,309.47 L189.89,312.76 L191.33,316.02 L192.78,319.18 L194.22,322.23 L195.66,325.12 L197.11,327.83 L198.55,330.35 L200.00,332.65 L201.44,334.74 L202.88,336.62 L204.33,338.28 L205.77,339.75 L207.22,341.03 L208.66,342.13 L210.10,343.07 L211.55,343.87 L212.99,344.54 L214.44,345.10 L215.88,345.56 L217.32,345.94 L218.77,346.25 L220.21,346.50 L221.66,346.69 L223.10,346.85 L224.54,346.97 L225.99,347.07 L227.43,347.15 L228.88,347.20 L230.32,347.25 L231.76,347.28 L233.21,347.31 L234.65,347.33 L236.10,347.35 L237.54,347.36 L238.98,347.37 L240.43,347.38 L241.87,347.39 L243.32,347.40 L244.76,347.40 L246.20,347.41 L247.65,347.41 L249.09,347.41 L250.54,347.42 L251.98,347.42 L253.42,347.42 L254.87,347.42 L256.31,347.43 L257.76,347.43 L259.20,347.43 L260.64,347.43 L262.09,347.44 L263.53,347.44 L264.98,347.44 L266.42,347.44 L267.86,347.44 L269.31,347.44 L270.75,347.45 L272.20,347.45 L273.64,347.45 L275.08,347.45 L276.53,347.45 L277.97,347.45 L279.42,347.45 L280.86,347.46 L282.30,347.46 L283.75,347.46 L285.19,347.46 L286.64,347.46 L288.08,347.46 L289.52,347.46 L290.97,347.46 L292.41,347.46 L293.86,347.46 L295.30,347.47 L296.74,347.47 L298.19,347.47 L299.63,347.47 L301.08,347.47 L302.52,347.47 L303.96,347.47 L305.41,347.47 L306.85,347.47 L308.30,347.47 L309.74,347.47 L311.18,347.47 L312.63,347.47 L314.07,347.47 L315.52,347.47 L316.96,347.47 L318.40,347.48 L319.85,347.48 L321.29,347.48 L322.74,347.48 L324.18,347.48 L325.62,347.48 L327.07,347.48 L328.51,347.48 L329.96,347.48 L331.40,347.48" fill="none" stroke="#5a14c0" stroke-width="1.3" stroke-linejoin="round"/>
<path d="M42.60,347.47 L44.04,347.47 L45.49,347.47 L46.93,347.47 L48.38,347.47 L49.82,347.46 L51.26,347.46 L52.71,347.46 L54.15,347.46 L55.60,347.46 L57.04,347.46 L58.48,347.45 L59.93,347.45 L61.37,347.45 L62.82,347.44 L64.26,347.44 L65.70,347.43 L67.15,347.42 L68.59,347.41 L70.04,347.39 L71.48,347.37 L72.92,347.33 L74.37,347.28 L75.81,347.21 L77.26,347.11 L78.70,346.98 L80.14,346.79 L81.59,346.54 L83.03,346.21 L84.48,345.78 L85.92,345.23 L87.36,344.54 L88.81,343.69 L90.25,342.65 L91.70,341.41 L93.14,339.97 L94.58,338.32 L96.03,336.46 L97.47,334.44 L98.92,332.26 L100.36,330.00 L101.80,327.69 L103.25,325.42 L104.69,323.26 L106.14,321.30 L107.58,319.61 L109.02,318.26 L110.47,317.32 L111.91,316.84 L113.36,316.83 L114.80,317.29 L116.24,318.21 L117.69,319.54 L119.13,321.22 L120.58,323.18 L122.02,325.33 L123.46,327.60 L124.91,329.90 L126.35,332.17 L127.80,334.35 L129.24,336.38 L130.68,338.24 L132.13,339.90 L133.57,341.36 L135.02,342.60 L136.46,343.65 L137.90,344.51 L139.35,345.21 L140.79,345.76 L142.24,346.20 L143.68,346.53 L145.12,346.78 L146.57,346.97 L148.01,347.11 L149.46,347.21 L150.90,347.28 L152.34,347.33 L153.79,347.37 L155.23,347.39 L156.68,347.41 L158.12,347.42 L159.56,347.43 L161.01,347.44 L162.45,347.44 L163.90,347.45 L165.34,347.45 L166.78,347.45 L168.23,347.46 L169.67,347.46 L171.12,347.46 L172.56,347.46 L174.00,347.46 L175.45,347.46 L176.89,347.47 L178.34,347.47 L179.78,347.47 L181.22,347.47 L182.67,347.47 L184.11,347.47 L185.56,347.47 L187.00,347.47 L188.44,347.48 L189.89,347.48 L191.33,347.48 L192.78,347.48 L194.22,347.48 L195.66,347.48 L197.11,347.48 L198.55,347.48 L200.00,347.48 L201.44,347.48 L202.88,347.48 L204.33,347.48 L205.77,347.48 L207.22,347.48 L208.66,347.48 L210.10,347.48 L211.55,347.49 L212.99,347.49 L214.44,347.49 L215.88,347.49 L217.32,347.49 L218.77,347.49 L220.21,347.49 L221.66,347.49 L223.10,347.49 L224.54,347.49 L225.99,347.49 L227.43,347.49 L228.88,347.49 L230.32,347.49 L231.76,347.49 L233.21,347.49 L234.65,347.49 L236.10,347.49 L237.54,347.49 L238.98,347.49 L240.43,347.49 L241.87,347.49 L243.32,347.49 L244.76,347.49 L246.20,347.49 L247.65,347.49 L249.09,347.49 L250.54,347.49 L251.98,347.49 L253.42,347.49 L254.87,347.49 L256.31,347.49 L257.76,347.49 L259.20,347.49 L260.64,347.49 L262.09,347.49 L263.53,347.49 L264.98,347.49 L266.42,347.49 L267.86,347.49 L269.31,347.49 L270.75,347.49 L272.20,347.49 L273.64,347.49 L275.08,347.49 L276.53,347.49 L277.97,347.49 L279.42,347.49 L280.86,347.49 L282.30,347.49 L283.75,347.50 L285.19,347.50 L286.64,347.50 L288.08,347.50 L289.52,347.50 L290.97,347.50 L292.41,347.50 L293.86,347.50 L295.30,347.50 L296.74,347.50 L298.19,347.50 L299.63,347.50 L301.08,347.50 L302.52,347.50 L303.96,347.50 L305.41,347.50 L306.85,347.50 L308.30,347.50 L309.74,347.50 L311.18,347.50 L312.63,347.50 L314.07,347.50 L315.52,347.50 L316.96,347.50 L318.40,347.50 L319.85,347.50 L321.29,347.50 L322.74,347.50 L324.18,347.50 L325.62,347.50 L327.07,347.50 L328.51,347.50 L329.96,347.50 L331.40,347.50 L331.40,348.40 L42.60,348.40 Z" fill="#ff6466" fill-opacity="0.4" stroke="none"/>
<path d="M42.60,347.47 L44.04,347.47 L45.49,347.47 L46.93,347.47 L48.38,347.47 L49.82,347.46 L51.26,347.46 L52.71,347.46 L54.15,347.46 L55.60,347.46 L57.04,347.46 L58.48,347.45 L59.93,347.45 L61.37,347.45 L62.82,347.44 L64.26,347.44 L65.70,347.43 L67.15,347.42 L68.59,347.41 L70.04,347.39 L71.48,347.37 L72.92,347.33 L74.37,347.28 L75.81,347.21 L77.26,347.11 L78.70,346.98 L80.14,346.79 L81.59,346.54 L83.03,346.21 L84.48,345.78 L85.92,345.23 L87.36,344.54 L88.81,343.69 L90.25,342.65 L91.70,341.41 L93.14,339.97 L94.58,338.32 L96.03,336.46 L97.47,334.44 L98.92,332.26 L100.36,330.00 L101.80,327.69 L103.25,325.42 L104.69,323.26 L106.14,321.30 L107.58,319.61 L109.02,318.26 L110.47,317.32 L111.91,316.84 L113.36,316.83 L114.80,317.29 L116.24,318.21 L117.69,319.54 L119.13,321.22 L120.58,323.18 L122.02,325.33 L123.46,327.60 L124.91,329.90 L126.35,332.17 L127.80,334.35 L129.24,336.38 L130.68,338.24 L132.13,339.90 L133.57,341.36 L135.02,342.60 L136.46,343.65 L137.90,344.51 L139.35,345.21 L140.79,345.76 L142.24,346.20 L143.68,346.53 L145.12,346.78 L146.57,346.97 L148.01,347.11 L149.46,347.21 L150.90,347.28 L152.34,347.33 L153.79,347.37 L155.23,347.39 L156.68,347.41 L158.12,347.42 L159.56,347.43 L161.01,347.44 L162.45,347.44 L163.90,347.45 L165.34,347.45 L166.78,347.45 L168.23,347.46 L169.67,347.46 L171.12,347.46 L172.56,347.46 L174.00,347.46 L175.45,347.46 L176.89,347.47 L178.34,347.47 L179.78,347.47 L181.22,347.47 L182.67,347.47 L184.11,347.47 L185.56,347.47 L187.00,347.47 L188.44,347.48 L189.89,347.48 L191.33,347.48 L192.78,347.48 L194.22,347.48 L195.66,347.48 L197.11,347.48 L198.55,347.48 L200.00,347.48 L201.44,347.48 L202.88,347.48 L204.33,347.48 L205.77,347.48 L207.22,347.48 L208.66,347.48 L210.10,347.48 L211.55,347.49 L212.99,347.49 L214.44,347.49 L215.88,347.49 L217.32,347.49 L218.77,347.49 L220.21,347.49 L221.66,347.49 L223.10,347.49 L224.54,347.49 L225.99,347.49 L227.43,347.49 L228.88,347.49 L230.32,347.49 L231.76,347.49 L233.21,347.49 L234.65,347.49 L236.10,347.49 L237.54,347.49 L238.98,347.49 L240.43,347.49 L241.87,347.49 L243.32,347.49 L244.76,347.49 L246.20,347.49 L247.65,347.49 L249.09,347.49 L250.54,347.49 L251.98,347.49 L253.42,347.49 L254.87,347.49 L256.31,347.49 L257.76,347.49 L259.20,347.49 L260.64,347.49 L262.09,347.49 L263.53,347.49 L264.98,347.49 L266.42,347.49 L267.86,347.49 L269.31,347.49 L270.75,347.49 L272.20,347.49 L273.64,347.49 L275.08,347.49 L276.53,347.49 L277.97,347.49 L279.42,347.49 L280.86,347.49 L282.30,347.49 L283.75,347.50 L285.19,347.50 L286.64,347.50 L288.08,347.50 L289.52,347.50 L290.97,347.50 L292.41,347.50 L293.86,347.50 L295.30,347.50 L296.74,347.50 L298.19,347.50 L299.63,347.50 L301.08,347.50 L302.52,347.50 L303.96,347.50 L305.41,347.50 L306.85,347.50 L308.30,347.50 L309.74,347.50 L311.18,347.50 L312.63,347.50 L314.07,347.50 L315.52,347.50 L316.96,347.50 L318.40,347.50 L319.85,347.50 L321.29,347.50 L322.74,347.50 L324.18,347.50 L325.62,347.50 L327.07,347.50 L328.51,347.50 L329.96,347.50 L331.40,347.50" fill="none" stroke="#d01818" stroke-width="1.3" stroke-linejoin="round"/>
<path d="M42.60,347.48 L44.04,347.48 L45.49,347.48 L46.93,347.48 L48.38,347.48 L49.82,347.48 L51.26,347.48 L52.71,347.48 L54.15,347.48 L55.60,347.48 L57.04,347.48 L58.48,347.48 L59.93,347.48 L61.37,347.48 L62.82,347.48 L64.26,347.48 L65.70,347.48 L67.15,347.48 L68.59,347.48 L70.04,347.48 L71.48,347.48 L72.92,347.48 L74.37,347.48 L75.81,347.48 L77.26,347.48 L78.70,347.48 L80.14,347.48 L81.59,347.48 L83.03,347.48 L84.48,347.47 L85.92,347.47 L87.36,347.47 L88.81,347.47 L90.25,347.47 L91.70,347.47 L93.14,347.47 L94.58,347.47 L96.03,347.47 L97.47,347.47 L98.92,347.47 L100.36,347.47 L101.80,347.47 L103.25,347.47 L104.69,347.47 L106.14,347.47 L107.58,347.47 L109.02,347.47 L110.47,347.47 L111.91,347.47 L113.36,347.47 L114.80,347.47 L116.24,347.47 L117.69,347.46 L119.13,347.46 L120.58,347.46 L122.02,347.46 L123.46,347.46 L124.91,347.46 L126.35,347.46 L127.80,347.46 L129.24,347.46 L130.68,347.46 L132.13,347.46 L133.57,347.46 L135.02,347.46 L136.46,347.46 L137.90,347.46 L139.35,347.45 L140.79,347.45 L142.24,347.45 L143.68,347.45 L145.12,347.45 L146.57,347.45 L148.01,347.45 L149.46,347.45 L150.90,347.45 L152.34,347.45 L153.79,347.44 L155.23,347.44 L156.68,347.44 L158.12,347.44 L159.56,347.44 L161.01,347.44 L162.45,347.44 L163.90,347.44 L165.34,347.43 L166.78,347.43 L168.23,347.43 L169.67,347.43 L171.12,347.43 L172.56,347.43 L174.00,347.43 L175.45,347.42 L176.89,347.42 L178.34,347.42 L179.78,347.42 L181.22,347.42 L182.67,347.41 L184.11,347.41 L185.56,347.41 L187.00,347.41 L188.44,347.40 L189.89,347.40 L191.33,347.40 L192.78,347.40 L194.22,347.39 L195.66,347.39 L197.11,347.39 L198.55,347.38 L200.00,347.38 L201.44,347.38 L202.88,347.37 L204.33,347.37 L205.77,347.37 L207.22,347.36 L208.66,347.36 L210.10,347.35 L211.55,347.35 L212.99,347.34 L214.44,347.34 L215.88,347.33 L217.32,347.33 L218.77,347.32 L220.21,347.31 L221.66,347.31 L223.10,347.30 L224.54,347.29 L225.99,347.28 L227.43,347.27 L228.88,347.26 L230.32,347.25 L231.76,347.24 L233.21,347.22 L234.65,347.21 L236.10,347.19 L237.54,347.17 L238.98,347.14 L240.43,347.11 L241.87,347.07 L243.32,347.03 L244.76,346.97 L246.20,346.91 L247.65,346.83 L249.09,346.73 L250.54,346.61 L251.98,346.47 L253.42,346.30 L254.87,346.09 L256.31,345.85 L257.76,345.56 L259.20,345.23 L260.64,344.84 L262.09,344.39 L263.53,343.87 L264.98,343.29 L266.42,342.63 L267.86,341.89 L269.31,341.08 L270.75,340.19 L272.20,339.22 L273.64,338.18 L275.08,337.08 L276.53,335.92 L277.97,334.72 L279.42,333.48 L280.86,332.24 L282.30,330.99 L283.75,329.77 L285.19,328.60 L286.64,327.49 L288.08,326.47 L289.52,325.57 L290.97,324.81 L292.41,324.20 L293.86,323.76 L295.30,323.51 L296.74,323.46 L298.19,323.59 L299.63,323.92 L301.08,324.43 L302.52,325.11 L303.96,325.94 L305.41,326.89 L306.85,327.94 L308.30,329.08 L309.74,330.28 L311.18,331.51 L312.63,332.76 L314.07,334.01 L315.52,335.23 L316.96,336.41 L318.40,337.55 L319.85,338.63 L321.29,339.64 L322.74,340.57 L324.18,341.43 L325.62,342.21 L327.07,342.91 L328.51,343.54 L329.96,344.10 L331.40,344.59 L331.40,348.40 L42.60,348.40 Z" fill="#39ffff" fill-opacity="0.4" stroke="none"/>
<path d="M42.60,347.48 L44.04,347.48 L45.49,347.48 L46.93,347.48 L48.38,347.48 L49.82,347.48 L51.26,347.48 L52.71,347.48 L54.15,347.48 L55.60,347.48 L57.04,347.48 L58.48,347.48 L59.93,347.48 L61.37,347.48 L62.82,347.48 L64.26,347.48 L65.70,347.48 L67.15,347.48 L68.59,347.48 L70.04,347.48 L71.48,347.48 L72.92,347.48 L74.37,347.48 L75.81,347.48 L77.26,347.48 L78.70,347.48 L80.14,347.48 L81.59,347.48 L83.03,347.48 L84.48,347.47 L85.92,347.47 L87.36,347.47 L88.81,347.47 L90.25,347.47 L91.70,347.47 L93.14,347.47 L94.58,347.47 L96.03,347.47 L97.47,347.47 L98.92,347.47 L100.36,347.47 L101.80,347.47 L103.25,347.47 L104.69,347.47 L106.14,347.47 L107.58,347.47 L109.02,347.47 L110.47,347.47 L111.91,347.47 L113.36,347.47 L114.80,347.47 L116.24,347.47 L117.69,347.46 L119.13,347.46 L120.58,347.46 L122.02,347.46 L123.46,347.46 L124.91,347.46 L126.35,347.46 L127.80,347.46 L129.24,347.46 L130.68,347.46 L132.13,347.46 L133.57,347.46 L135.02,347.46 L136.46,347.46 L137.90,347.46 L139.35,347.45 L140.79,347.45 L142.24,347.45 L143.68,347.45 L145.12,347.45 L146.57,347.45 L148.01,347.45 L149.46,347.45 L150.90,347.45 L152.34,347.45 L153.79,347.44 L155.23,347.44 L156.68,347.44 L158.12,347.44 L159.56,347.44 L161.01,347.44 L162.45,347.44 L163.90,347.44 L165.34,347.43 L166.78,347.43 L168.23,347.43 L169.67,347.43 L171.12,347.43 L172.56,347.43 L174.00,347.43 L175.45,347.42 L176.89,347.42 L178.34,347.42 L179.78,347.42 L181.22,347.42 L182.67,347.41 L184.11,347.41 L185.56,347.41 L187.00,347.41 L188.44,347.40 L189.89,347.40 L191.33,347.40 L192.78,347.40 L194.22,347.39 L195.66,347.39 L197.11,347.39 L198.55,347.38 L200.00,347.38 L201.44,347.38 L202.88,347.37 L204.33,347.37 L205.77,347.37 L207.22,347.36 L208.66,347.36 L210.10,347.35 L211.55,347.35 L212.99,347.34 L214.44,347.34 L215.88,347.33 L217.32,347.33 L218.77,347.32 L220.21,347.31 L221.66,347.31 L223.10,347.30 L224.54,347.29 L225.99,347.28 L227.43,347.27 L228.88,347.26 L230.32,347.25 L231.76,347.24 L233.21,347.22 L234.65,347.21 L236.10,347.19 L237.54,347.17 L238.98,347.14 L240.43,347.11 L241.87,347.07 L243.32,347.03 L244.76,346.97 L246.20,346.91 L247.65,346.83 L249.09,346.73 L250.54,346.61 L251.98,346.47 L253.42,346.30 L254.87,346.09 L256.31,345.85 L257.76,345.56 L259.20,345.23 L260.64,344.84 L262.09,344.39 L263.53,343.87 L264.98,343.29 L266.42,342.63 L267.86,341.89 L269.31,341.08 L270.75,340.19 L272.20,339.22 L273.64,338.18 L275.08,337.08 L276.53,335.92 L277.97,334.72 L279.42,333.48 L280.86,332.24 L282.30,330.99 L283.75,329.77 L285.19,328.60 L286.64,327.49 L288.08,326.47 L289.52,325.57 L290.97,324.81 L292.41,324.20 L293.86,323.76 L295.30,323.51 L296.74,323.46 L298.19,323.59 L299.63,323.92 L301.08,324.43 L302.52,325.11 L303.96,325.94 L305.41,326.89 L306.85,327.94 L308.30,329.08 L309.74,330.28 L311.18,331.51 L312.63,332.76 L314.07,334.01 L315.52,335.23 L316.96,336.41 L318.40,337.55 L319.85,338.63 L321.29,339.64 L322.74,340.57 L324.18,341.43 L325.62,342.21 L327.07,342.91 L328.51,343.54 L329.96,344.10 L331.40,344.59" fill="none" stroke="#4a90f0" stroke-width="1.3" stroke-linejoin="round"/>
<path d="M42.60,346.27 L44.04,346.19 L45.49,346.09 L46.93,345.96 L48.38,345.80 L49.82,345.60 L51.26,345.34 L52.71,345.03 L54.15,344.63 L55.60,344.14 L57.04,343.54 L58.48,342.82 L59.93,341.95 L61.37,340.94 L62.82,339.76 L64.26,338.40 L65.70,336.87 L67.15,335.15 L68.59,333.27 L70.04,331.23 L71.48,329.05 L72.92,326.77 L74.37,324.41 L75.81,322.03 L77.26,319.66 L78.70,317.35 L80.14,315.15 L81.59,313.09 L83.03,311.21 L84.48,309.54 L85.92,308.09 L87.36,306.84 L88.81,305.80 L90.25,304.90 L91.70,304.12 L93.14,303.39 L94.58,302.65 L96.03,301.84 L97.47,300.91 L98.92,299.82 L100.36,298.54 L101.80,297.07 L103.25,295.41 L104.69,293.59 L106.14,291.65 L107.58,289.62 L109.02,287.56 L110.47,285.51 L111.91,283.52 L113.36,281.62 L114.80,279.82 L116.24,278.12 L117.69,276.51 L119.13,274.97 L120.58,273.46 L122.02,271.94 L123.46,270.39 L124.91,268.76 L126.35,267.04 L127.80,265.20 L129.24,263.26 L130.68,261.21 L132.13,259.06 L133.57,256.85 L135.02,254.59 L136.46,252.32 L137.90,250.06 L139.35,247.85 L140.79,245.69 L142.24,243.60 L143.68,241.59 L145.12,239.66 L146.57,237.80 L148.01,235.99 L149.46,234.22 L150.90,232.46 L152.34,230.69 L153.79,228.89 L155.23,227.03 L156.68,225.10 L158.12,223.08 L159.56,220.95 L161.01,218.72 L162.45,216.37 L163.90,213.92 L165.34,211.36 L166.78,208.71 L168.23,205.97 L169.67,203.16 L171.12,200.27 L172.56,197.32 L174.00,194.32 L175.45,191.24 L176.89,188.10 L178.34,184.88 L179.78,181.58 L181.22,178.17 L182.67,174.66 L184.11,171.02 L185.56,167.26 L187.00,163.37 L188.44,159.34 L189.89,155.19 L191.33,150.93 L192.78,146.58 L194.22,142.15 L195.66,137.69 L197.11,133.22 L198.55,128.77 L200.00,124.40 L201.44,120.13 L202.88,116.01 L204.33,112.07 L205.77,108.35 L207.22,104.87 L208.66,101.66 L210.10,98.76 L211.55,96.16 L212.99,93.90 L214.44,91.98 L215.88,90.42 L217.32,89.23 L218.77,88.42 L220.21,87.99 L221.66,87.96 L223.10,88.35 L224.54,89.15 L225.99,90.38 L227.43,92.05 L228.88,94.18 L230.32,96.77 L231.76,99.82 L233.21,103.34 L234.65,107.32 L236.10,111.77 L237.54,116.66 L238.98,121.98 L240.43,127.70 L241.87,133.80 L243.32,140.23 L244.76,146.96 L246.20,153.95 L247.65,161.16 L249.09,168.53 L250.54,176.01 L251.98,183.58 L253.42,191.17 L254.87,198.74 L256.31,206.25 L257.76,213.65 L259.20,220.90 L260.64,227.97 L262.09,234.82 L263.53,241.42 L264.98,247.73 L266.42,253.73 L267.86,259.40 L269.31,264.73 L270.75,269.70 L272.20,274.30 L273.64,278.53 L275.08,282.39 L276.53,285.89 L277.97,289.05 L279.42,291.89 L280.86,294.41 L282.30,296.66 L283.75,298.65 L285.19,300.43 L286.64,302.03 L288.08,303.47 L289.52,304.81 L290.97,306.07 L292.41,307.29 L293.86,308.51 L295.30,309.73 L296.74,311.00 L298.19,312.32 L299.63,313.70 L301.08,315.15 L302.52,316.65 L303.96,318.21 L305.41,319.81 L306.85,321.44 L308.30,323.08 L309.74,324.72 L311.18,326.35 L312.63,327.94 L314.07,329.49 L315.52,330.99 L316.96,332.41 L318.40,333.76 L319.85,335.03 L321.29,336.21 L322.74,337.29 L324.18,338.29 L325.62,339.20 L327.07,340.01 L328.51,340.74 L329.96,341.40 L331.40,341.97" fill="none" stroke="#7c7c7c" stroke-width="1.3" stroke-linejoin="round"/>
<path d="M42.60,346.27 L44.04,346.19 L45.49,346.09 L46.93,345.96 L48.38,345.80 L49.82,345.60 L51.26,345.34 L52.71,345.03 L54.15,344.63 L55.60,344.14 L57.04,343.54 L58.48,342.82 L59.93,341.95 L61.37,340.94 L62.82,339.76 L64.26,338.40 L65.70,336.87 L67.15,335.15 L68.59,333.27 L70.04,331.23 L71.48,329.05 L72.92,326.77 L74.37,324.41 L75.81,322.03 L77.26,319.66 L78.70,317.35 L80.14,315.15 L81.59,313.09 L83.03,311.21 L84.48,309.54 L85.92,308.09 L87.36,306.84 L88.81,305.80 L90.25,304.90 L91.70,304.12 L93.14,303.39 L94.58,302.65 L96.03,301.84 L97.47,300.91 L98.92,299.82 L100.36,298.54 L101.80,297.07 L103.25,295.41 L104.69,293.59 L106.14,291.65 L107.58,289.62 L109.02,287.56 L110.47,285.51 L111.91,283.52 L113.36,281.62 L114.80,279.82 L116.24,278.12 L117.69,276.51 L119.13,274.97 L120.58,273.46 L122.02,271.94 L123.46,270.39 L124.91,268.76 L126.35,267.04 L127.80,265.20 L129.24,263.26 L130.68,261.21 L132.13,259.06 L133.57,256.85 L135.02,254.59 L136.46,252.32 L137.90,250.06 L139.35,247.85 L140.79,245.69 L142.24,243.60 L143.68,241.59 L145.12,239.66 L146.57,237.80 L148.01,235.99 L149.46,234.22 L150.90,232.46 L152.34,230.69 L153.79,228.89 L155.23,227.03 L156.68,225.10 L158.12,223.08 L159.56,220.95 L161.01,218.72 L162.45,216.37 L163.90,213.92 L165.34,211.36 L166.78,208.71 L168.23,205.97 L169.67,203.16 L171.12,200.27 L172.56,197.32 L174.00,194.32 L175.45,191.24 L176.89,188.10 L178.34,184.88 L179.78,181.58 L181.22,178.17 L182.67,174.66 L184.11,171.02 L185.56,167.26 L187.00,163.37 L188.44,159.34 L189.89,155.19 L191.33,150.93 L192.78,146.58 L194.22,142.15 L195.66,137.69 L197.11,133.22 L198.55,128.77 L200.00,124.40 L201.44,120.13 L202.88,116.01 L204.33,112.07 L205.77,108.35 L207.22,104.87 L208.66,101.66 L210.10,98.76 L211.55,96.16 L212.99,93.90 L214.44,91.98 L215.88,90.42 L217.32,89.23 L218.77,88.42 L220.21,87.99 L221.66,87.96 L223.10,88.35 L224.54,89.15 L225.99,90.38 L227.43,92.05 L228.88,94.18 L230.32,96.77 L231.76,99.82 L233.21,103.34 L234.65,107.32 L236.10,111.77 L237.54,116.66 L238.98,121.98 L240.43,127.70 L241.87,133.80 L243.32,140.23 L244.76,146.96 L246.20,153.95 L247.65,161.16 L249.09,168.53 L250.54,176.01 L251.98,183.58 L253.42,191.17 L254.87,198.74 L256.31,206.25 L257.76,213.65 L259.20,220.90 L260.64,227.97 L262.09,234.82 L263.53,241.42 L264.98,247.73 L266.42,253.73 L267.86,259.40 L269.31,264.73 L270.75,269.70 L272.20,274.30 L273.64,278.53 L275.08,282.39 L276.53,285.89 L277.97,289.05 L279.42,291.89 L280.86,294.41 L282.30,296.66 L283.75,298.65 L285.19,300.43 L286.64,302.03 L288.08,303.47 L289.52,304.81 L290.97,306.07 L292.41,307.29 L293.86,308.51 L295.30,309.73 L296.74,311.00 L298.19,312.32 L299.63,313.70 L301.08,315.15 L302.52,316.65 L303.96,318.21 L305.41,319.81 L306.85,321.44 L308.30,323.08 L309.74,324.72 L311.18,326.35 L312.63,327.94 L314.07,329.49 L315.52,330.99 L316.96,332.41 L318.40,333.76 L319.85,335.03 L321.29,336.21 L322.74,337.29 L324.18,338.29 L325.62,339.20 L327.07,340.01 L328.51,340.74 L329.96,341.40 L331.40,341.97" fill="none" stroke="#f03838" stroke-width="1.3" stroke-dasharray="4.5,5.3"/>
<line x1="42.5" y1="347.20" x2="201.44" y2="347.20" stroke="#8a7030" stroke-width="0.9"/>
<line x1="267.86" y1="347.50" x2="331.5" y2="347.50" stroke="#c8d850" stroke-width="0.9"/>
<line x1="42.5" y1="348.60" x2="276.53" y2="348.60" stroke="#78a6ec" stroke-width="1.5"/>
<line x1="276.53" y1="348.80" x2="331.5" y2="348.80" stroke="#d84848" stroke-width="1.3"/>
</g>
<text x="187.00" y="381.20" text-anchor="middle" font-size="11.8">Wavenumber / cm<tspan dx="1.6" dy="-5" font-size="8.4">-1</tspan></text>
<text transform="translate(14.5,191.90) rotate(-90)" text-anchor="middle" font-size="12">Absorbance / a.u.</text>
<line x1="60.8" y1="54.0" x2="80.6" y2="54.0" stroke="#8a8a8a" stroke-width="1.8"/>
<text x="83.8" y="57.0" font-size="8.6">Amide-I'-band</text>
<line x1="60.8" y1="64.3" x2="75.8" y2="64.3" stroke="#f03838" stroke-width="1.3" stroke-dasharray="5,4.9"/>
<text x="83.8" y="67.3" font-size="8.6">Fit</text>
<rect x="61.8" y="74.6" width="19" height="7.8" fill="#cbff93" fill-opacity="0.4" stroke="#bbb" stroke-opacity="0.6" stroke-width="0.6"/>
<text x="84.3" y="81.5" font-size="8.6">1685 cm<tspan dx="0.8" dy="-3.8" font-size="6">-1</tspan></text>
<rect x="61.8" y="88.5" width="19" height="7.8" fill="#ff6466" fill-opacity="0.4" stroke="#bbb" stroke-opacity="0.6" stroke-width="0.6"/>
<text x="84.3" y="95.5" font-size="8.6">1676 cm<tspan dx="0.8" dy="-3.8" font-size="6">-1</tspan></text>
<rect x="61.8" y="102.5" width="19" height="7.8" fill="#82afee" fill-opacity="0.4" stroke="#bbb" stroke-opacity="0.6" stroke-width="0.6"/>
<text x="84.3" y="109.4" font-size="8.6">1664 cm<tspan dx="0.8" dy="-3.8" font-size="6">-1</tspan></text>
<rect x="61.8" y="116.4" width="19" height="7.8" fill="#7539c5" fill-opacity="0.4" stroke="#bbb" stroke-opacity="0.6" stroke-width="0.6"/>
<text x="84.3" y="123.3" font-size="8.6">1653 cm<tspan dx="0.8" dy="-3.8" font-size="6">-1</tspan></text>
<rect x="61.8" y="130.4" width="19" height="7.8" fill="#fad9a7" fill-opacity="0.4" stroke="#bbb" stroke-opacity="0.6" stroke-width="0.6"/>
<text x="84.3" y="137.3" font-size="8.6">1643 cm<tspan dx="0.8" dy="-3.8" font-size="6">-1</tspan></text>
<rect x="61.8" y="144.3" width="19" height="7.8" fill="#8e8e8e" fill-opacity="0.4" stroke="#bbb" stroke-opacity="0.6" stroke-width="0.6"/>
<text x="84.3" y="151.2" font-size="8.6">1635 cm<tspan dx="0.8" dy="-3.8" font-size="6">-1</tspan></text>
<rect x="61.8" y="158.3" width="19" height="7.8" fill="#39ffff" fill-opacity="0.4" stroke="#bbb" stroke-opacity="0.6" stroke-width="0.6"/>
<text x="84.3" y="165.2" font-size="8.6">1611 cm<tspan dx="0.8" dy="-3.8" font-size="6">-1</tspan></text>
<text x="1.0" y="21.0" font-family='"Liberation Serif", serif' font-size="28">a)</text>
<line x1="43.10" y1="754.1" x2="43.10" y2="749.9" stroke="#333" stroke-width="1"/>
<line x1="43.10" y1="442.5" x2="43.10" y2="446.7" stroke="#222" stroke-width="1"/>
<text x="43.10" y="768.30" text-anchor="middle" font-size="10">1700</text>
<line x1="71.95" y1="754.1" x2="71.95" y2="751.5" stroke="#333" stroke-width="1"/>
<line x1="71.95" y1="442.5" x2="71.95" y2="445.1" stroke="#222" stroke-width="1"/>
<line x1="100.80" y1="754.1" x2="100.80" y2="749.9" stroke="#333" stroke-width="1"/>
<line x1="100.80" y1="442.5" x2="100.80" y2="446.7" stroke="#222" stroke-width="1"/>
<text x="100.80" y="768.30" text-anchor="middle" font-size="10">1680</text>
<line x1="129.65" y1="754.1" x2="129.65" y2="751.5" stroke="#333" stroke-width="1"/>
<line x1="129.65" y1="442.5" x2="129.65" y2="445.1" stroke="#222" stroke-width="1"/>
<line x1="158.50" y1="754.1" x2="158.50" y2="749.9" stroke="#333" stroke-width="1"/>
<line x1="158.50" y1="442.5" x2="158.50" y2="446.7" stroke="#222" stroke-width="1"/>
<text x="158.50" y="768.30" text-anchor="middle" font-size="10">1660</text>
<line x1="187.35" y1="754.1" x2="187.35" y2="751.5" stroke="#333" stroke-width="1"/>
<line x1="187.35" y1="442.5" x2="187.35" y2="445.1" stroke="#222" stroke-width="1"/>
<line x1="216.20" y1="754.1" x2="216.20" y2="749.9" stroke="#333" stroke-width="1"/>
<line x1="216.20" y1="442.5" x2="216.20" y2="446.7" stroke="#222" stroke-width="1"/>
<text x="216.20" y="768.30" text-anchor="middle" font-size="10">1640</text>
<line x1="245.05" y1="754.1" x2="245.05" y2="751.5" stroke="#333" stroke-width="1"/>
<line x1="245.05" y1="442.5" x2="245.05" y2="445.1" stroke="#222" stroke-width="1"/>
<line x1="273.90" y1="754.1" x2="273.90" y2="749.9" stroke="#333" stroke-width="1"/>
<line x1="273.90" y1="442.5" x2="273.90" y2="446.7" stroke="#222" stroke-width="1"/>
<text x="273.90" y="768.30" text-anchor="middle" font-size="10">1620</text>
<line x1="302.75" y1="754.1" x2="302.75" y2="751.5" stroke="#333" stroke-width="1"/>
<line x1="302.75" y1="442.5" x2="302.75" y2="445.1" stroke="#222" stroke-width="1"/>
<line x1="331.60" y1="754.1" x2="331.60" y2="749.9" stroke="#333" stroke-width="1"/>
<line x1="331.60" y1="442.5" x2="331.60" y2="446.7" stroke="#222" stroke-width="1"/>
<text x="331.60" y="768.30" text-anchor="middle" font-size="10">1600</text>
<line x1="43.0" y1="754.70" x2="47.2" y2="754.70" stroke="#222" stroke-width="1"/>
<line x1="331.5" y1="754.70" x2="327.3" y2="754.70" stroke="#222" stroke-width="1"/>
<text x="37.50" y="758.40" text-anchor="end" font-size="10">0.00</text>
<line x1="43.0" y1="720.03" x2="45.6" y2="720.03" stroke="#222" stroke-width="1"/>
<line x1="331.5" y1="720.03" x2="328.9" y2="720.03" stroke="#222" stroke-width="1"/>
<line x1="43.0" y1="685.37" x2="45.6" y2="685.37" stroke="#222" stroke-width="1"/>
<line x1="331.5" y1="685.37" x2="328.9" y2="685.37" stroke="#222" stroke-width="1"/>
<line x1="43.0" y1="650.70" x2="47.2" y2="650.70" stroke="#222" stroke-width="1"/>
<line x1="331.5" y1="650.70" x2="327.3" y2="650.70" stroke="#222" stroke-width="1"/>
<text x="37.50" y="654.40" text-anchor="end" font-size="10">0.01</text>
<line x1="43.0" y1="616.03" x2="45.6" y2="616.03" stroke="#222" stroke-width="1"/>
<line x1="331.5" y1="616.03" x2="328.9" y2="616.03" stroke="#222" stroke-width="1"/>
<line x1="43.0" y1="581.37" x2="45.6" y2="581.37" stroke="#222" stroke-width="1"/>
<line x1="331.5" y1="581.37" x2="328.9" y2="581.37" stroke="#222" stroke-width="1"/>
<line x1="43.0" y1="546.70" x2="47.2" y2="546.70" stroke="#222" stroke-width="1"/>
<line x1="331.5" y1="546.70" x2="327.3" y2="546.70" stroke="#222" stroke-width="1"/>
<text x="37.50" y="550.40" text-anchor="end" font-size="10">0.02</text>
<line x1="43.0" y1="512.03" x2="45.6" y2="512.03" stroke="#222" stroke-width="1"/>
<line x1="331.5" y1="512.03" x2="328.9" y2="512.03" stroke="#222" stroke-width="1"/>
<line x1="43.0" y1="477.37" x2="45.6" y2="477.37" stroke="#222" stroke-width="1"/>
<line x1="331.5" y1="477.37" x2="328.9" y2="477.37" stroke="#222" stroke-width="1"/>
<line x1="43.0" y1="442.70" x2="47.2" y2="442.70" stroke="#222" stroke-width="1"/>
<line x1="331.5" y1="442.70" x2="327.3" y2="442.70" stroke="#222" stroke-width="1"/>
<text x="37.50" y="446.40" text-anchor="end" font-size="10">0.03</text>
<path d="M43.0,754.1 L43.0,442.5 L331.5,442.5 L331.5,754.1" fill="none" stroke="#222" stroke-width="1.2" stroke-linejoin="miter"/>
<line x1="43.0" y1="443.1" x2="43.0" y2="754.1" stroke="#7a7a7a" stroke-width="1.6"/>
<clipPath id="clipc"><rect x="43.0" y="442.5" width="288.5" height="313.8"/></clipPath>
<g clip-path="url(#clipc)">
<path d="M43.10,753.66 L44.54,753.66 L45.98,753.65 L47.43,753.64 L48.87,753.64 L50.31,753.63 L51.76,753.62 L53.20,753.62 L54.64,753.61 L56.08,753.60 L57.52,753.59 L58.97,753.58 L60.41,753.58 L61.85,753.57 L63.30,753.56 L64.74,753.55 L66.18,753.54 L67.62,753.53 L69.06,753.52 L70.51,753.51 L71.95,753.50 L73.39,753.49 L74.84,753.48 L76.28,753.47 L77.72,753.46 L79.16,753.45 L80.60,753.44 L82.05,753.42 L83.49,753.41 L84.93,753.40 L86.38,753.39 L87.82,753.37 L89.26,753.36 L90.70,753.34 L92.14,753.33 L93.59,753.31 L95.03,753.30 L96.47,753.28 L97.91,753.27 L99.36,753.25 L100.80,753.23 L102.24,753.21 L103.69,753.19 L105.13,753.17 L106.57,753.15 L108.01,753.13 L109.45,753.11 L110.90,753.09 L112.34,753.07 L113.78,753.05 L115.22,753.02 L116.67,753.00 L118.11,752.97 L119.55,752.94 L121.00,752.91 L122.44,752.89 L123.88,752.86 L125.32,752.82 L126.76,752.79 L128.21,752.76 L129.65,752.72 L131.09,752.68 L132.53,752.64 L133.98,752.60 L135.42,752.56 L136.86,752.51 L138.31,752.46 L139.75,752.41 L141.19,752.35 L142.63,752.29 L144.07,752.22 L145.52,752.14 L146.96,752.06 L148.40,751.96 L149.84,751.86 L151.29,751.74 L152.73,751.61 L154.17,751.46 L155.61,751.29 L157.06,751.10 L158.50,750.88 L159.94,750.62 L161.38,750.33 L162.83,749.99 L164.27,749.61 L165.71,749.16 L167.16,748.65 L168.60,748.06 L170.04,747.39 L171.48,746.62 L172.92,745.74 L174.37,744.74 L175.81,743.60 L177.25,742.31 L178.69,740.86 L180.14,739.23 L181.58,737.40 L183.02,735.36 L184.46,733.10 L185.91,730.58 L187.35,727.81 L188.79,724.76 L190.23,721.42 L191.68,717.78 L193.12,713.84 L194.56,709.58 L196.00,705.00 L197.45,700.10 L198.89,694.88 L200.33,689.35 L201.77,683.52 L203.22,677.40 L204.66,671.02 L206.10,664.40 L207.54,657.57 L208.99,650.56 L210.43,643.42 L211.87,636.19 L213.31,628.91 L214.76,621.65 L216.20,614.45 L217.64,607.38 L219.08,600.50 L220.53,593.87 L221.97,587.57 L223.41,581.65 L224.85,576.18 L226.30,571.23 L227.74,566.85 L229.18,563.11 L230.62,560.04 L232.07,557.70 L233.51,556.11 L234.95,555.29 L236.39,555.27 L237.84,556.03 L239.28,557.58 L240.72,559.88 L242.16,562.90 L243.61,566.61 L245.05,570.95 L246.49,575.87 L247.93,581.31 L249.38,587.20 L250.82,593.48 L252.26,600.09 L253.70,606.96 L255.15,614.02 L256.59,621.21 L258.03,628.47 L259.47,635.75 L260.92,642.99 L262.36,650.14 L263.80,657.15 L265.25,664.00 L266.69,670.63 L268.13,677.03 L269.57,683.16 L271.01,689.01 L272.46,694.56 L273.90,699.79 L275.34,704.71 L276.78,709.31 L278.23,713.59 L279.67,717.56 L281.11,721.21 L282.56,724.56 L284.00,727.63 L285.44,730.42 L286.88,732.95 L288.32,735.23 L289.77,737.29 L291.21,739.13 L292.65,740.77 L294.09,742.23 L295.54,743.53 L296.98,744.67 L298.42,745.68 L299.87,746.57 L301.31,747.34 L302.75,748.02 L304.19,748.62 L305.63,749.13 L307.08,749.58 L308.52,749.97 L309.96,750.31 L311.41,750.61 L312.85,750.86 L314.29,751.09 L315.73,751.28 L317.18,751.45 L318.62,751.60 L320.06,751.74 L321.50,751.85 L322.94,751.96 L324.39,752.05 L325.83,752.14 L327.27,752.21 L328.71,752.28 L330.16,752.35 L330.16,755.00 L43.10,755.00 Z" fill="#8e8e8e" fill-opacity="0.4" stroke="none"/>
<path d="M43.10,753.66 L44.54,753.66 L45.98,753.65 L47.43,753.64 L48.87,753.64 L50.31,753.63 L51.76,753.62 L53.20,753.62 L54.64,753.61 L56.08,753.60 L57.52,753.59 L58.97,753.58 L60.41,753.58 L61.85,753.57 L63.30,753.56 L64.74,753.55 L66.18,753.54 L67.62,753.53 L69.06,753.52 L70.51,753.51 L71.95,753.50 L73.39,753.49 L74.84,753.48 L76.28,753.47 L77.72,753.46 L79.16,753.45 L80.60,753.44 L82.05,753.42 L83.49,753.41 L84.93,753.40 L86.38,753.39 L87.82,753.37 L89.26,753.36 L90.70,753.34 L92.14,753.33 L93.59,753.31 L95.03,753.30 L96.47,753.28 L97.91,753.27 L99.36,753.25 L100.80,753.23 L102.24,753.21 L103.69,753.19 L105.13,753.17 L106.57,753.15 L108.01,753.13 L109.45,753.11 L110.90,753.09 L112.34,753.07 L113.78,753.05 L115.22,753.02 L116.67,753.00 L118.11,752.97 L119.55,752.94 L121.00,752.91 L122.44,752.89 L123.88,752.86 L125.32,752.82 L126.76,752.79 L128.21,752.76 L129.65,752.72 L131.09,752.68 L132.53,752.64 L133.98,752.60 L135.42,752.56 L136.86,752.51 L138.31,752.46 L139.75,752.41 L141.19,752.35 L142.63,752.29 L144.07,752.22 L145.52,752.14 L146.96,752.06 L148.40,751.96 L149.84,751.86 L151.29,751.74 L152.73,751.61 L154.17,751.46 L155.61,751.29 L157.06,751.10 L158.50,750.88 L159.94,750.62 L161.38,750.33 L162.83,749.99 L164.27,749.61 L165.71,749.16 L167.16,748.65 L168.60,748.06 L170.04,747.39 L171.48,746.62 L172.92,745.74 L174.37,744.74 L175.81,743.60 L177.25,742.31 L178.69,740.86 L180.14,739.23 L181.58,737.40 L183.02,735.36 L184.46,733.10 L185.91,730.58 L187.35,727.81 L188.79,724.76 L190.23,721.42 L191.68,717.78 L193.12,713.84 L194.56,709.58 L196.00,705.00 L197.45,700.10 L198.89,694.88 L200.33,689.35 L201.77,683.52 L203.22,677.40 L204.66,671.02 L206.10,664.40 L207.54,657.57 L208.99,650.56 L210.43,643.42 L211.87,636.19 L213.31,628.91 L214.76,621.65 L216.20,614.45 L217.64,607.38 L219.08,600.50 L220.53,593.87 L221.97,587.57 L223.41,581.65 L224.85,576.18 L226.30,571.23 L227.74,566.85 L229.18,563.11 L230.62,560.04 L232.07,557.70 L233.51,556.11 L234.95,555.29 L236.39,555.27 L237.84,556.03 L239.28,557.58 L240.72,559.88 L242.16,562.90 L243.61,566.61 L245.05,570.95 L246.49,575.87 L247.93,581.31 L249.38,587.20 L250.82,593.48 L252.26,600.09 L253.70,606.96 L255.15,614.02 L256.59,621.21 L258.03,628.47 L259.47,635.75 L260.92,642.99 L262.36,650.14 L263.80,657.15 L265.25,664.00 L266.69,670.63 L268.13,677.03 L269.57,683.16 L271.01,689.01 L272.46,694.56 L273.90,699.79 L275.34,704.71 L276.78,709.31 L278.23,713.59 L279.67,717.56 L281.11,721.21 L282.56,724.56 L284.00,727.63 L285.44,730.42 L286.88,732.95 L288.32,735.23 L289.77,737.29 L291.21,739.13 L292.65,740.77 L294.09,742.23 L295.54,743.53 L296.98,744.67 L298.42,745.68 L299.87,746.57 L301.31,747.34 L302.75,748.02 L304.19,748.62 L305.63,749.13 L307.08,749.58 L308.52,749.97 L309.96,750.31 L311.41,750.61 L312.85,750.86 L314.29,751.09 L315.73,751.28 L317.18,751.45 L318.62,751.60 L320.06,751.74 L321.50,751.85 L322.94,751.96 L324.39,752.05 L325.83,752.14 L327.27,752.21 L328.71,752.28 L330.16,752.35" fill="none" stroke="#111111" stroke-width="1.3" stroke-linejoin="round"/>
<path d="M43.10,753.08 L44.54,753.06 L45.98,753.04 L47.43,753.02 L48.87,753.00 L50.31,752.98 L51.76,752.96 L53.20,752.94 L54.64,752.92 L56.08,752.90 L57.52,752.87 L58.97,752.85 L60.41,752.82 L61.85,752.80 L63.30,752.77 L64.74,752.74 L66.18,752.72 L67.62,752.69 L69.06,752.66 L70.51,752.63 L71.95,752.59 L73.39,752.56 L74.84,752.53 L76.28,752.49 L77.72,752.46 L79.16,752.42 L80.60,752.38 L82.05,752.34 L83.49,752.30 L84.93,752.26 L86.38,752.21 L87.82,752.17 L89.26,752.12 L90.70,752.07 L92.14,752.02 L93.59,751.97 L95.03,751.91 L96.47,751.85 L97.91,751.79 L99.36,751.73 L100.80,751.67 L102.24,751.60 L103.69,751.53 L105.13,751.46 L106.57,751.38 L108.01,751.30 L109.45,751.22 L110.90,751.13 L112.34,751.04 L113.78,750.94 L115.22,750.84 L116.67,750.73 L118.11,750.61 L119.55,750.49 L121.00,750.36 L122.44,750.22 L123.88,750.07 L125.32,749.90 L126.76,749.72 L128.21,749.53 L129.65,749.31 L131.09,749.07 L132.53,748.81 L133.98,748.52 L135.42,748.19 L136.86,747.82 L138.31,747.41 L139.75,746.94 L141.19,746.42 L142.63,745.82 L144.07,745.15 L145.52,744.40 L146.96,743.54 L148.40,742.58 L149.84,741.49 L151.29,740.27 L152.73,738.90 L154.17,737.37 L155.61,735.66 L157.06,733.76 L158.50,731.66 L159.94,729.34 L161.38,726.79 L162.83,724.01 L164.27,720.97 L165.71,717.68 L167.16,714.13 L168.60,710.32 L170.04,706.25 L171.48,701.93 L172.92,697.36 L174.37,692.56 L175.81,687.55 L177.25,682.35 L178.69,677.00 L180.14,671.51 L181.58,665.94 L183.02,660.32 L184.46,654.71 L185.91,649.16 L187.35,643.73 L188.79,638.49 L190.23,633.50 L191.68,628.84 L193.12,624.59 L194.56,620.81 L196.00,617.58 L197.45,614.97 L198.89,613.02 L200.33,611.80 L201.77,611.32 L203.22,611.59 L204.66,612.62 L206.10,614.36 L207.54,616.80 L208.99,619.87 L210.43,623.50 L211.87,627.63 L213.31,632.19 L214.76,637.09 L216.20,642.27 L217.64,647.66 L219.08,653.18 L220.53,658.78 L221.97,664.40 L223.41,669.99 L224.85,675.50 L226.30,680.90 L227.74,686.15 L229.18,691.21 L230.62,696.07 L232.07,700.70 L233.51,705.09 L234.95,709.23 L236.39,713.11 L237.84,716.73 L239.28,720.09 L240.72,723.20 L242.16,726.05 L243.61,728.67 L245.05,731.05 L246.49,733.21 L247.93,735.16 L249.38,736.92 L250.82,738.50 L252.26,739.91 L253.70,741.17 L255.15,742.29 L256.59,743.29 L258.03,744.17 L259.47,744.96 L260.92,745.65 L262.36,746.26 L263.80,746.80 L265.25,747.29 L266.69,747.71 L268.13,748.09 L269.57,748.43 L271.01,748.73 L272.46,749.00 L273.90,749.25 L275.34,749.47 L276.78,749.67 L278.23,749.85 L279.67,750.02 L281.11,750.18 L282.56,750.32 L284.00,750.46 L285.44,750.58 L286.88,750.70 L288.32,750.81 L289.77,750.91 L291.21,751.01 L292.65,751.11 L294.09,751.19 L295.54,751.28 L296.98,751.36 L298.42,751.44 L299.87,751.51 L301.31,751.58 L302.75,751.65 L304.19,751.72 L305.63,751.78 L307.08,751.84 L308.52,751.90 L309.96,751.95 L311.41,752.00 L312.85,752.06 L314.29,752.11 L315.73,752.15 L317.18,752.20 L318.62,752.25 L320.06,752.29 L321.50,752.33 L322.94,752.37 L324.39,752.41 L325.83,752.45 L327.27,752.48 L328.71,752.52 L330.16,752.55 L330.16,755.00 L43.10,755.00 Z" fill="#fad9a7" fill-opacity="0.4" stroke="none"/>
<path d="M43.10,753.08 L44.54,753.06 L45.98,753.04 L47.43,753.02 L48.87,753.00 L50.31,752.98 L51.76,752.96 L53.20,752.94 L54.64,752.92 L56.08,752.90 L57.52,752.87 L58.97,752.85 L60.41,752.82 L61.85,752.80 L63.30,752.77 L64.74,752.74 L66.18,752.72 L67.62,752.69 L69.06,752.66 L70.51,752.63 L71.95,752.59 L73.39,752.56 L74.84,752.53 L76.28,752.49 L77.72,752.46 L79.16,752.42 L80.60,752.38 L82.05,752.34 L83.49,752.30 L84.93,752.26 L86.38,752.21 L87.82,752.17 L89.26,752.12 L90.70,752.07 L92.14,752.02 L93.59,751.97 L95.03,751.91 L96.47,751.85 L97.91,751.79 L99.36,751.73 L100.80,751.67 L102.24,751.60 L103.69,751.53 L105.13,751.46 L106.57,751.38 L108.01,751.30 L109.45,751.22 L110.90,751.13 L112.34,751.04 L113.78,750.94 L115.22,750.84 L116.67,750.73 L118.11,750.61 L119.55,750.49 L121.00,750.36 L122.44,750.22 L123.88,750.07 L125.32,749.90 L126.76,749.72 L128.21,749.53 L129.65,749.31 L131.09,749.07 L132.53,748.81 L133.98,748.52 L135.42,748.19 L136.86,747.82 L138.31,747.41 L139.75,746.94 L141.19,746.42 L142.63,745.82 L144.07,745.15 L145.52,744.40 L146.96,743.54 L148.40,742.58 L149.84,741.49 L151.29,740.27 L152.73,738.90 L154.17,737.37 L155.61,735.66 L157.06,733.76 L158.50,731.66 L159.94,729.34 L161.38,726.79 L162.83,724.01 L164.27,720.97 L165.71,717.68 L167.16,714.13 L168.60,710.32 L170.04,706.25 L171.48,701.93 L172.92,697.36 L174.37,692.56 L175.81,687.55 L177.25,682.35 L178.69,677.00 L180.14,671.51 L181.58,665.94 L183.02,660.32 L184.46,654.71 L185.91,649.16 L187.35,643.73 L188.79,638.49 L190.23,633.50 L191.68,628.84 L193.12,624.59 L194.56,620.81 L196.00,617.58 L197.45,614.97 L198.89,613.02 L200.33,611.80 L201.77,611.32 L203.22,611.59 L204.66,612.62 L206.10,614.36 L207.54,616.80 L208.99,619.87 L210.43,623.50 L211.87,627.63 L213.31,632.19 L214.76,637.09 L216.20,642.27 L217.64,647.66 L219.08,653.18 L220.53,658.78 L221.97,664.40 L223.41,669.99 L224.85,675.50 L226.30,680.90 L227.74,686.15 L229.18,691.21 L230.62,696.07 L232.07,700.70 L233.51,705.09 L234.95,709.23 L236.39,713.11 L237.84,716.73 L239.28,720.09 L240.72,723.20 L242.16,726.05 L243.61,728.67 L245.05,731.05 L246.49,733.21 L247.93,735.16 L249.38,736.92 L250.82,738.50 L252.26,739.91 L253.70,741.17 L255.15,742.29 L256.59,743.29 L258.03,744.17 L259.47,744.96 L260.92,745.65 L262.36,746.26 L263.80,746.80 L265.25,747.29 L266.69,747.71 L268.13,748.09 L269.57,748.43 L271.01,748.73 L272.46,749.00 L273.90,749.25 L275.34,749.47 L276.78,749.67 L278.23,749.85 L279.67,750.02 L281.11,750.18 L282.56,750.32 L284.00,750.46 L285.44,750.58 L286.88,750.70 L288.32,750.81 L289.77,750.91 L291.21,751.01 L292.65,751.11 L294.09,751.19 L295.54,751.28 L296.98,751.36 L298.42,751.44 L299.87,751.51 L301.31,751.58 L302.75,751.65 L304.19,751.72 L305.63,751.78 L307.08,751.84 L308.52,751.90 L309.96,751.95 L311.41,752.00 L312.85,752.06 L314.29,752.11 L315.73,752.15 L317.18,752.20 L318.62,752.25 L320.06,752.29 L321.50,752.33 L322.94,752.37 L324.39,752.41 L325.83,752.45 L327.27,752.48 L328.71,752.52 L330.16,752.55" fill="none" stroke="#f5bd10" stroke-width="1.3" stroke-linejoin="round"/>
<path d="M43.10,753.62 L44.54,753.60 L45.98,753.59 L47.43,753.57 L48.87,753.56 L50.31,753.54 L51.76,753.52 L53.20,753.50 L54.64,753.49 L56.08,753.46 L57.52,753.44 L58.97,753.42 L60.41,753.39 L61.85,753.36 L63.30,753.33 L64.74,753.30 L66.18,753.26 L67.62,753.22 L69.06,753.17 L70.51,753.12 L71.95,753.06 L73.39,752.98 L74.84,752.90 L76.28,752.80 L77.72,752.68 L79.16,752.55 L80.60,752.39 L82.05,752.19 L83.49,751.97 L84.93,751.70 L86.38,751.39 L87.82,751.02 L89.26,750.60 L90.70,750.09 L92.14,749.51 L93.59,748.84 L95.03,748.06 L96.47,747.17 L97.91,746.15 L99.36,745.00 L100.80,743.70 L102.24,742.24 L103.69,740.62 L105.13,738.82 L106.57,736.83 L108.01,734.66 L109.45,732.30 L110.90,729.75 L112.34,727.02 L113.78,724.11 L115.22,721.04 L116.67,717.81 L118.11,714.46 L119.55,711.00 L121.00,707.46 L122.44,703.88 L123.88,700.28 L125.32,696.72 L126.76,693.22 L128.21,689.84 L129.65,686.62 L131.09,683.61 L132.53,680.85 L133.98,678.38 L135.42,676.26 L136.86,674.52 L138.31,673.20 L139.75,672.31 L141.19,671.88 L142.63,671.92 L144.07,672.43 L145.52,673.39 L146.96,674.78 L148.40,676.59 L149.84,678.77 L151.29,681.28 L152.73,684.09 L154.17,687.14 L155.61,690.39 L157.06,693.80 L158.50,697.31 L159.94,700.88 L161.38,704.48 L162.83,708.05 L164.27,711.58 L165.71,715.02 L167.16,718.36 L168.60,721.56 L170.04,724.61 L171.48,727.49 L172.92,730.19 L174.37,732.71 L175.81,735.04 L177.25,737.18 L178.69,739.13 L180.14,740.90 L181.58,742.50 L183.02,743.93 L184.46,745.20 L185.91,746.33 L187.35,747.33 L188.79,748.20 L190.23,748.96 L191.68,749.61 L193.12,750.18 L194.56,750.67 L196.00,751.09 L197.45,751.45 L198.89,751.75 L200.33,752.01 L201.77,752.23 L203.22,752.41 L204.66,752.57 L206.10,752.70 L207.54,752.82 L208.99,752.91 L210.43,753.00 L211.87,753.07 L213.31,753.13 L214.76,753.18 L216.20,753.23 L217.64,753.27 L219.08,753.31 L220.53,753.34 L221.97,753.37 L223.41,753.40 L224.85,753.42 L226.30,753.45 L227.74,753.47 L229.18,753.49 L230.62,753.51 L232.07,753.53 L233.51,753.54 L234.95,753.56 L236.39,753.58 L237.84,753.59 L239.28,753.60 L240.72,753.62 L242.16,753.63 L243.61,753.64 L245.05,753.66 L246.49,753.67 L247.93,753.68 L249.38,753.69 L250.82,753.70 L252.26,753.71 L253.70,753.72 L255.15,753.73 L256.59,753.74 L258.03,753.75 L259.47,753.75 L260.92,753.76 L262.36,753.77 L263.80,753.78 L265.25,753.79 L266.69,753.79 L268.13,753.80 L269.57,753.81 L271.01,753.81 L272.46,753.82 L273.90,753.82 L275.34,753.83 L276.78,753.84 L278.23,753.84 L279.67,753.85 L281.11,753.85 L282.56,753.86 L284.00,753.86 L285.44,753.87 L286.88,753.87 L288.32,753.87 L289.77,753.88 L291.21,753.88 L292.65,753.89 L294.09,753.89 L295.54,753.89 L296.98,753.90 L298.42,753.90 L299.87,753.91 L301.31,753.91 L302.75,753.91 L304.19,753.92 L305.63,753.92 L307.08,753.92 L308.52,753.92 L309.96,753.93 L311.41,753.93 L312.85,753.93 L314.29,753.94 L315.73,753.94 L317.18,753.94 L318.62,753.94 L320.06,753.95 L321.50,753.95 L322.94,753.95 L324.39,753.95 L325.83,753.96 L327.27,753.96 L328.71,753.96 L330.16,753.96 L330.16,755.00 L43.10,755.00 Z" fill="#82afee" fill-opacity="0.4" stroke="none"/>
<path d="M43.10,753.62 L44.54,753.60 L45.98,753.59 L47.43,753.57 L48.87,753.56 L50.31,753.54 L51.76,753.52 L53.20,753.50 L54.64,753.49 L56.08,753.46 L57.52,753.44 L58.97,753.42 L60.41,753.39 L61.85,753.36 L63.30,753.33 L64.74,753.30 L66.18,753.26 L67.62,753.22 L69.06,753.17 L70.51,753.12 L71.95,753.06 L73.39,752.98 L74.84,752.90 L76.28,752.80 L77.72,752.68 L79.16,752.55 L80.60,752.39 L82.05,752.19 L83.49,751.97 L84.93,751.70 L86.38,751.39 L87.82,751.02 L89.26,750.60 L90.70,750.09 L92.14,749.51 L93.59,748.84 L95.03,748.06 L96.47,747.17 L97.91,746.15 L99.36,745.00 L100.80,743.70 L102.24,742.24 L103.69,740.62 L105.13,738.82 L106.57,736.83 L108.01,734.66 L109.45,732.30 L110.90,729.75 L112.34,727.02 L113.78,724.11 L115.22,721.04 L116.67,717.81 L118.11,714.46 L119.55,711.00 L121.00,707.46 L122.44,703.88 L123.88,700.28 L125.32,696.72 L126.76,693.22 L128.21,689.84 L129.65,686.62 L131.09,683.61 L132.53,680.85 L133.98,678.38 L135.42,676.26 L136.86,674.52 L138.31,673.20 L139.75,672.31 L141.19,671.88 L142.63,671.92 L144.07,672.43 L145.52,673.39 L146.96,674.78 L148.40,676.59 L149.84,678.77 L151.29,681.28 L152.73,684.09 L154.17,687.14 L155.61,690.39 L157.06,693.80 L158.50,697.31 L159.94,700.88 L161.38,704.48 L162.83,708.05 L164.27,711.58 L165.71,715.02 L167.16,718.36 L168.60,721.56 L170.04,724.61 L171.48,727.49 L172.92,730.19 L174.37,732.71 L175.81,735.04 L177.25,737.18 L178.69,739.13 L180.14,740.90 L181.58,742.50 L183.02,743.93 L184.46,745.20 L185.91,746.33 L187.35,747.33 L188.79,748.20 L190.23,748.96 L191.68,749.61 L193.12,750.18 L194.56,750.67 L196.00,751.09 L197.45,751.45 L198.89,751.75 L200.33,752.01 L201.77,752.23 L203.22,752.41 L204.66,752.57 L206.10,752.70 L207.54,752.82 L208.99,752.91 L210.43,753.00 L211.87,753.07 L213.31,753.13 L214.76,753.18 L216.20,753.23 L217.64,753.27 L219.08,753.31 L220.53,753.34 L221.97,753.37 L223.41,753.40 L224.85,753.42 L226.30,753.45 L227.74,753.47 L229.18,753.49 L230.62,753.51 L232.07,753.53 L233.51,753.54 L234.95,753.56 L236.39,753.58 L237.84,753.59 L239.28,753.60 L240.72,753.62 L242.16,753.63 L243.61,753.64 L245.05,753.66 L246.49,753.67 L247.93,753.68 L249.38,753.69 L250.82,753.70 L252.26,753.71 L253.70,753.72 L255.15,753.73 L256.59,753.74 L258.03,753.75 L259.47,753.75 L260.92,753.76 L262.36,753.77 L263.80,753.78 L265.25,753.79 L266.69,753.79 L268.13,753.80 L269.57,753.81 L271.01,753.81 L272.46,753.82 L273.90,753.82 L275.34,753.83 L276.78,753.84 L278.23,753.84 L279.67,753.85 L281.11,753.85 L282.56,753.86 L284.00,753.86 L285.44,753.87 L286.88,753.87 L288.32,753.87 L289.77,753.88 L291.21,753.88 L292.65,753.89 L294.09,753.89 L295.54,753.89 L296.98,753.90 L298.42,753.90 L299.87,753.91 L301.31,753.91 L302.75,753.91 L304.19,753.92 L305.63,753.92 L307.08,753.92 L308.52,753.92 L309.96,753.93 L311.41,753.93 L312.85,753.93 L314.29,753.94 L315.73,753.94 L317.18,753.94 L318.62,753.94 L320.06,753.95 L321.50,753.95 L322.94,753.95 L324.39,753.95 L325.83,753.96 L327.27,753.96 L328.71,753.96 L330.16,753.96" fill="none" stroke="#2050a8" stroke-width="1.3" stroke-linejoin="round"/>
<path d="M43.10,753.99 L44.54,753.94 L45.98,753.87 L47.43,753.77 L48.87,753.64 L50.31,753.46 L51.76,753.22 L53.20,752.91 L54.64,752.51 L56.08,752.01 L57.52,751.39 L58.97,750.64 L60.41,749.73 L61.85,748.66 L63.30,747.41 L64.74,746.00 L66.18,744.42 L67.62,742.69 L69.06,740.83 L70.51,738.88 L71.95,736.88 L73.39,734.88 L74.84,732.93 L76.28,731.11 L77.72,729.47 L79.16,728.08 L80.60,726.97 L82.05,726.20 L83.49,725.80 L84.93,725.79 L86.38,726.16 L87.82,726.90 L89.26,727.98 L90.70,729.35 L92.14,730.97 L93.59,732.78 L95.03,734.72 L96.47,736.71 L97.91,738.72 L99.36,740.68 L100.80,742.54 L102.24,744.29 L103.69,745.88 L105.13,747.31 L106.57,748.56 L108.01,749.65 L109.45,750.57 L110.90,751.34 L112.34,751.97 L113.78,752.48 L115.22,752.88 L116.67,753.20 L118.11,753.44 L119.55,753.62 L121.00,753.76 L122.44,753.86 L123.88,753.94 L125.32,753.99 L126.76,754.02 L128.21,754.05 L129.65,754.07 L131.09,754.08 L132.53,754.09 L133.98,754.09 L135.42,754.09 L136.86,754.10 L138.31,754.10 L139.75,754.10 L141.19,754.10 L142.63,754.10 L144.07,754.10 L145.52,754.10 L146.96,754.10 L148.40,754.10 L149.84,754.10 L151.29,754.10 L152.73,754.10 L154.17,754.10 L155.61,754.10 L157.06,754.10 L158.50,754.10 L159.94,754.10 L161.38,754.10 L162.83,754.10 L164.27,754.10 L165.71,754.10 L167.16,754.10 L168.60,754.10 L170.04,754.10 L171.48,754.10 L172.92,754.10 L174.37,754.10 L175.81,754.10 L177.25,754.10 L178.69,754.10 L180.14,754.10 L181.58,754.10 L183.02,754.10 L184.46,754.10 L185.91,754.10 L187.35,754.10 L188.79,754.10 L190.23,754.10 L191.68,754.10 L193.12,754.10 L194.56,754.10 L196.00,754.10 L197.45,754.10 L198.89,754.10 L200.33,754.10 L201.77,754.10 L203.22,754.10 L204.66,754.10 L206.10,754.10 L207.54,754.10 L208.99,754.10 L210.43,754.10 L211.87,754.10 L213.31,754.10 L214.76,754.10 L216.20,754.10 L217.64,754.10 L219.08,754.10 L220.53,754.10 L221.97,754.10 L223.41,754.10 L224.85,754.10 L226.30,754.10 L227.74,754.10 L229.18,754.10 L230.62,754.10 L232.07,754.10 L233.51,754.10 L234.95,754.10 L236.39,754.10 L237.84,754.10 L239.28,754.10 L240.72,754.10 L242.16,754.10 L243.61,754.10 L245.05,754.10 L246.49,754.10 L247.93,754.10 L249.38,754.10 L250.82,754.10 L252.26,754.10 L253.70,754.10 L255.15,754.10 L256.59,754.10 L258.03,754.10 L259.47,754.10 L260.92,754.10 L262.36,754.10 L263.80,754.10 L265.25,754.10 L266.69,754.10 L268.13,754.10 L269.57,754.10 L271.01,754.10 L272.46,754.10 L273.90,754.10 L275.34,754.10 L276.78,754.10 L278.23,754.10 L279.67,754.10 L281.11,754.10 L282.56,754.10 L284.00,754.10 L285.44,754.10 L286.88,754.10 L288.32,754.10 L289.77,754.10 L291.21,754.10 L292.65,754.10 L294.09,754.10 L295.54,754.10 L296.98,754.10 L298.42,754.10 L299.87,754.10 L301.31,754.10 L302.75,754.10 L304.19,754.10 L305.63,754.10 L307.08,754.10 L308.52,754.10 L309.96,754.10 L311.41,754.10 L312.85,754.10 L314.29,754.10 L315.73,754.10 L317.18,754.10 L318.62,754.10 L320.06,754.10 L321.50,754.10 L322.94,754.10 L324.39,754.10 L325.83,754.10 L327.27,754.10 L328.71,754.10 L330.16,754.10 L330.16,755.00 L43.10,755.00 Z" fill="#cbff93" fill-opacity="0.4" stroke="none"/>
<path d="M43.10,753.99 L44.54,753.94 L45.98,753.87 L47.43,753.77 L48.87,753.64 L50.31,753.46 L51.76,753.22 L53.20,752.91 L54.64,752.51 L56.08,752.01 L57.52,751.39 L58.97,750.64 L60.41,749.73 L61.85,748.66 L63.30,747.41 L64.74,746.00 L66.18,744.42 L67.62,742.69 L69.06,740.83 L70.51,738.88 L71.95,736.88 L73.39,734.88 L74.84,732.93 L76.28,731.11 L77.72,729.47 L79.16,728.08 L80.60,726.97 L82.05,726.20 L83.49,725.80 L84.93,725.79 L86.38,726.16 L87.82,726.90 L89.26,727.98 L90.70,729.35 L92.14,730.97 L93.59,732.78 L95.03,734.72 L96.47,736.71 L97.91,738.72 L99.36,740.68 L100.80,742.54 L102.24,744.29 L103.69,745.88 L105.13,747.31 L106.57,748.56 L108.01,749.65 L109.45,750.57 L110.90,751.34 L112.34,751.97 L113.78,752.48 L115.22,752.88 L116.67,753.20 L118.11,753.44 L119.55,753.62 L121.00,753.76 L122.44,753.86 L123.88,753.94 L125.32,753.99 L126.76,754.02 L128.21,754.05 L129.65,754.07 L131.09,754.08 L132.53,754.09 L133.98,754.09 L135.42,754.09 L136.86,754.10 L138.31,754.10 L139.75,754.10 L141.19,754.10 L142.63,754.10 L144.07,754.10 L145.52,754.10 L146.96,754.10 L148.40,754.10 L149.84,754.10 L151.29,754.10 L152.73,754.10 L154.17,754.10 L155.61,754.10 L157.06,754.10 L158.50,754.10 L159.94,754.10 L161.38,754.10 L162.83,754.10 L164.27,754.10 L165.71,754.10 L167.16,754.10 L168.60,754.10 L170.04,754.10 L171.48,754.10 L172.92,754.10 L174.37,754.10 L175.81,754.10 L177.25,754.10 L178.69,754.10 L180.14,754.10 L181.58,754.10 L183.02,754.10 L184.46,754.10 L185.91,754.10 L187.35,754.10 L188.79,754.10 L190.23,754.10 L191.68,754.10 L193.12,754.10 L194.56,754.10 L196.00,754.10 L197.45,754.10 L198.89,754.10 L200.33,754.10 L201.77,754.10 L203.22,754.10 L204.66,754.10 L206.10,754.10 L207.54,754.10 L208.99,754.10 L210.43,754.10 L211.87,754.10 L213.31,754.10 L214.76,754.10 L216.20,754.10 L217.64,754.10 L219.08,754.10 L220.53,754.10 L221.97,754.10 L223.41,754.10 L224.85,754.10 L226.30,754.10 L227.74,754.10 L229.18,754.10 L230.62,754.10 L232.07,754.10 L233.51,754.10 L234.95,754.10 L236.39,754.10 L237.84,754.10 L239.28,754.10 L240.72,754.10 L242.16,754.10 L243.61,754.10 L245.05,754.10 L246.49,754.10 L247.93,754.10 L249.38,754.10 L250.82,754.10 L252.26,754.10 L253.70,754.10 L255.15,754.10 L256.59,754.10 L258.03,754.10 L259.47,754.10 L260.92,754.10 L262.36,754.10 L263.80,754.10 L265.25,754.10 L266.69,754.10 L268.13,754.10 L269.57,754.10 L271.01,754.10 L272.46,754.10 L273.90,754.10 L275.34,754.10 L276.78,754.10 L278.23,754.10 L279.67,754.10 L281.11,754.10 L282.56,754.10 L284.00,754.10 L285.44,754.10 L286.88,754.10 L288.32,754.10 L289.77,754.10 L291.21,754.10 L292.65,754.10 L294.09,754.10 L295.54,754.10 L296.98,754.10 L298.42,754.10 L299.87,754.10 L301.31,754.10 L302.75,754.10 L304.19,754.10 L305.63,754.10 L307.08,754.10 L308.52,754.10 L309.96,754.10 L311.41,754.10 L312.85,754.10 L314.29,754.10 L315.73,754.10 L317.18,754.10 L318.62,754.10 L320.06,754.10 L321.50,754.10 L322.94,754.10 L324.39,754.10 L325.83,754.10 L327.27,754.10 L328.71,754.10 L330.16,754.10" fill="none" stroke="#2e7d3a" stroke-width="1.3" stroke-linejoin="round"/>
<path d="M43.10,754.10 L44.54,754.10 L45.98,754.10 L47.43,754.10 L48.87,754.10 L50.31,754.10 L51.76,754.10 L53.20,754.10 L54.64,754.10 L56.08,754.10 L57.52,754.10 L58.97,754.10 L60.41,754.10 L61.85,754.10 L63.30,754.10 L64.74,754.10 L66.18,754.10 L67.62,754.10 L69.06,754.10 L70.51,754.10 L71.95,754.10 L73.39,754.10 L74.84,754.10 L76.28,754.10 L77.72,754.10 L79.16,754.10 L80.60,754.10 L82.05,754.10 L83.49,754.10 L84.93,754.10 L86.38,754.10 L87.82,754.10 L89.26,754.10 L90.70,754.10 L92.14,754.10 L93.59,754.10 L95.03,754.10 L96.47,754.10 L97.91,754.10 L99.36,754.10 L100.80,754.10 L102.24,754.10 L103.69,754.10 L105.13,754.09 L106.57,754.09 L108.01,754.09 L109.45,754.08 L110.90,754.07 L112.34,754.06 L113.78,754.05 L115.22,754.03 L116.67,754.00 L118.11,753.96 L119.55,753.90 L121.00,753.83 L122.44,753.74 L123.88,753.62 L125.32,753.46 L126.76,753.26 L128.21,753.01 L129.65,752.69 L131.09,752.29 L132.53,751.80 L133.98,751.20 L135.42,750.48 L136.86,749.62 L138.31,748.60 L139.75,747.40 L141.19,746.01 L142.63,744.41 L144.07,742.60 L145.52,740.57 L146.96,738.31 L148.40,735.83 L149.84,733.14 L151.29,730.26 L152.73,727.21 L154.17,724.03 L155.61,720.76 L157.06,717.44 L158.50,714.14 L159.94,710.91 L161.38,707.81 L162.83,704.91 L164.27,702.27 L165.71,699.96 L167.16,698.02 L168.60,696.50 L170.04,695.44 L171.48,694.87 L172.92,694.80 L174.37,695.24 L175.81,696.17 L177.25,697.56 L178.69,699.39 L180.14,701.61 L181.58,704.16 L183.02,707.00 L184.46,710.05 L185.91,713.25 L187.35,716.54 L188.79,719.86 L190.23,723.15 L191.68,726.36 L193.12,729.44 L194.56,732.37 L196.00,735.12 L197.45,737.66 L198.89,739.98 L200.33,742.07 L201.77,743.94 L203.22,745.60 L204.66,747.04 L206.10,748.29 L207.54,749.36 L208.99,750.26 L210.43,751.02 L211.87,751.65 L213.31,752.17 L214.76,752.59 L216.20,752.93 L217.64,753.20 L219.08,753.41 L220.53,753.58 L221.97,753.71 L223.41,753.81 L224.85,753.89 L226.30,753.94 L227.74,753.99 L229.18,754.02 L230.62,754.04 L232.07,754.06 L233.51,754.07 L234.95,754.08 L236.39,754.09 L237.84,754.09 L239.28,754.09 L240.72,754.10 L242.16,754.10 L243.61,754.10 L245.05,754.10 L246.49,754.10 L247.93,754.10 L249.38,754.10 L250.82,754.10 L252.26,754.10 L253.70,754.10 L255.15,754.10 L256.59,754.10 L258.03,754.10 L259.47,754.10 L260.92,754.10 L262.36,754.10 L263.80,754.10 L265.25,754.10 L266.69,754.10 L268.13,754.10 L269.57,754.10 L271.01,754.10 L272.46,754.10 L273.90,754.10 L275.34,754.10 L276.78,754.10 L278.23,754.10 L279.67,754.10 L281.11,754.10 L282.56,754.10 L284.00,754.10 L285.44,754.10 L286.88,754.10 L288.32,754.10 L289.77,754.10 L291.21,754.10 L292.65,754.10 L294.09,754.10 L295.54,754.10 L296.98,754.10 L298.42,754.10 L299.87,754.10 L301.31,754.10 L302.75,754.10 L304.19,754.10 L305.63,754.10 L307.08,754.10 L308.52,754.10 L309.96,754.10 L311.41,754.10 L312.85,754.10 L314.29,754.10 L315.73,754.10 L317.18,754.10 L318.62,754.10 L320.06,754.10 L321.50,754.10 L322.94,754.10 L324.39,754.10 L325.83,754.10 L327.27,754.10 L328.71,754.10 L330.16,754.10 L330.16,755.00 L43.10,755.00 Z" fill="#7539c5" fill-opacity="0.4" stroke="none"/>
<path d="M43.10,754.10 L44.54,754.10 L45.98,754.10 L47.43,754.10 L48.87,754.10 L50.31,754.10 L51.76,754.10 L53.20,754.10 L54.64,754.10 L56.08,754.10 L57.52,754.10 L58.97,754.10 L60.41,754.10 L61.85,754.10 L63.30,754.10 L64.74,754.10 L66.18,754.10 L67.62,754.10 L69.06,754.10 L70.51,754.10 L71.95,754.10 L73.39,754.10 L74.84,754.10 L76.28,754.10 L77.72,754.10 L79.16,754.10 L80.60,754.10 L82.05,754.10 L83.49,754.10 L84.93,754.10 L86.38,754.10 L87.82,754.10 L89.26,754.10 L90.70,754.10 L92.14,754.10 L93.59,754.10 L95.03,754.10 L96.47,754.10 L97.91,754.10 L99.36,754.10 L100.80,754.10 L102.24,754.10 L103.69,754.10 L105.13,754.09 L106.57,754.09 L108.01,754.09 L109.45,754.08 L110.90,754.07 L112.34,754.06 L113.78,754.05 L115.22,754.03 L116.67,754.00 L118.11,753.96 L119.55,753.90 L121.00,753.83 L122.44,753.74 L123.88,753.62 L125.32,753.46 L126.76,753.26 L128.21,753.01 L129.65,752.69 L131.09,752.29 L132.53,751.80 L133.98,751.20 L135.42,750.48 L136.86,749.62 L138.31,748.60 L139.75,747.40 L141.19,746.01 L142.63,744.41 L144.07,742.60 L145.52,740.57 L146.96,738.31 L148.40,735.83 L149.84,733.14 L151.29,730.26 L152.73,727.21 L154.17,724.03 L155.61,720.76 L157.06,717.44 L158.50,714.14 L159.94,710.91 L161.38,707.81 L162.83,704.91 L164.27,702.27 L165.71,699.96 L167.16,698.02 L168.60,696.50 L170.04,695.44 L171.48,694.87 L172.92,694.80 L174.37,695.24 L175.81,696.17 L177.25,697.56 L178.69,699.39 L180.14,701.61 L181.58,704.16 L183.02,707.00 L184.46,710.05 L185.91,713.25 L187.35,716.54 L188.79,719.86 L190.23,723.15 L191.68,726.36 L193.12,729.44 L194.56,732.37 L196.00,735.12 L197.45,737.66 L198.89,739.98 L200.33,742.07 L201.77,743.94 L203.22,745.60 L204.66,747.04 L206.10,748.29 L207.54,749.36 L208.99,750.26 L210.43,751.02 L211.87,751.65 L213.31,752.17 L214.76,752.59 L216.20,752.93 L217.64,753.20 L219.08,753.41 L220.53,753.58 L221.97,753.71 L223.41,753.81 L224.85,753.89 L226.30,753.94 L227.74,753.99 L229.18,754.02 L230.62,754.04 L232.07,754.06 L233.51,754.07 L234.95,754.08 L236.39,754.09 L237.84,754.09 L239.28,754.09 L240.72,754.10 L242.16,754.10 L243.61,754.10 L245.05,754.10 L246.49,754.10 L247.93,754.10 L249.38,754.10 L250.82,754.10 L252.26,754.10 L253.70,754.10 L255.15,754.10 L256.59,754.10 L258.03,754.10 L259.47,754.10 L260.92,754.10 L262.36,754.10 L263.80,754.10 L265.25,754.10 L266.69,754.10 L268.13,754.10 L269.57,754.10 L271.01,754.10 L272.46,754.10 L273.90,754.10 L275.34,754.10 L276.78,754.10 L278.23,754.10 L279.67,754.10 L281.11,754.10 L282.56,754.10 L284.00,754.10 L285.44,754.10 L286.88,754.10 L288.32,754.10 L289.77,754.10 L291.21,754.10 L292.65,754.10 L294.09,754.10 L295.54,754.10 L296.98,754.10 L298.42,754.10 L299.87,754.10 L301.31,754.10 L302.75,754.10 L304.19,754.10 L305.63,754.10 L307.08,754.10 L308.52,754.10 L309.96,754.10 L311.41,754.10 L312.85,754.10 L314.29,754.10 L315.73,754.10 L317.18,754.10 L318.62,754.10 L320.06,754.10 L321.50,754.10 L322.94,754.10 L324.39,754.10 L325.83,754.10 L327.27,754.10 L328.71,754.10 L330.16,754.10" fill="none" stroke="#5a14c0" stroke-width="1.3" stroke-linejoin="round"/>
<path d="M43.10,754.02 L44.54,754.02 L45.98,754.01 L47.43,754.01 L48.87,754.01 L50.31,754.00 L51.76,754.00 L53.20,753.99 L54.64,753.99 L56.08,753.98 L57.52,753.97 L58.97,753.96 L60.41,753.95 L61.85,753.94 L63.30,753.92 L64.74,753.90 L66.18,753.87 L67.62,753.83 L69.06,753.78 L70.51,753.71 L71.95,753.61 L73.39,753.48 L74.84,753.31 L76.28,753.08 L77.72,752.79 L79.16,752.41 L80.60,751.93 L82.05,751.34 L83.49,750.60 L84.93,749.71 L86.38,748.65 L87.82,747.41 L89.26,745.98 L90.70,744.36 L92.14,742.57 L93.59,740.62 L95.03,738.55 L96.47,736.39 L97.91,734.19 L99.36,732.02 L100.80,729.95 L102.24,728.04 L103.69,726.36 L105.13,724.99 L106.57,723.98 L108.01,723.37 L109.45,723.20 L110.90,723.47 L112.34,724.16 L113.78,725.26 L115.22,726.71 L116.67,728.44 L118.11,730.39 L119.55,732.49 L121.00,734.67 L122.44,736.86 L123.88,739.01 L125.32,741.06 L126.76,742.97 L128.21,744.73 L129.65,746.31 L131.09,747.69 L132.53,748.90 L133.98,749.92 L135.42,750.77 L136.86,751.48 L138.31,752.05 L139.75,752.50 L141.19,752.86 L142.63,753.14 L144.07,753.35 L145.52,753.51 L146.96,753.63 L148.40,753.72 L149.84,753.79 L151.29,753.84 L152.73,753.88 L154.17,753.90 L155.61,753.92 L157.06,753.94 L158.50,753.95 L159.94,753.96 L161.38,753.97 L162.83,753.98 L164.27,753.99 L165.71,753.99 L167.16,754.00 L168.60,754.00 L170.04,754.01 L171.48,754.01 L172.92,754.01 L174.37,754.02 L175.81,754.02 L177.25,754.02 L178.69,754.03 L180.14,754.03 L181.58,754.03 L183.02,754.04 L184.46,754.04 L185.91,754.04 L187.35,754.04 L188.79,754.04 L190.23,754.05 L191.68,754.05 L193.12,754.05 L194.56,754.05 L196.00,754.05 L197.45,754.05 L198.89,754.06 L200.33,754.06 L201.77,754.06 L203.22,754.06 L204.66,754.06 L206.10,754.06 L207.54,754.06 L208.99,754.06 L210.43,754.07 L211.87,754.07 L213.31,754.07 L214.76,754.07 L216.20,754.07 L217.64,754.07 L219.08,754.07 L220.53,754.07 L221.97,754.07 L223.41,754.07 L224.85,754.07 L226.30,754.07 L227.74,754.07 L229.18,754.08 L230.62,754.08 L232.07,754.08 L233.51,754.08 L234.95,754.08 L236.39,754.08 L237.84,754.08 L239.28,754.08 L240.72,754.08 L242.16,754.08 L243.61,754.08 L245.05,754.08 L246.49,754.08 L247.93,754.08 L249.38,754.08 L250.82,754.08 L252.26,754.08 L253.70,754.08 L255.15,754.08 L256.59,754.08 L258.03,754.08 L259.47,754.08 L260.92,754.08 L262.36,754.08 L263.80,754.08 L265.25,754.09 L266.69,754.09 L268.13,754.09 L269.57,754.09 L271.01,754.09 L272.46,754.09 L273.90,754.09 L275.34,754.09 L276.78,754.09 L278.23,754.09 L279.67,754.09 L281.11,754.09 L282.56,754.09 L284.00,754.09 L285.44,754.09 L286.88,754.09 L288.32,754.09 L289.77,754.09 L291.21,754.09 L292.65,754.09 L294.09,754.09 L295.54,754.09 L296.98,754.09 L298.42,754.09 L299.87,754.09 L301.31,754.09 L302.75,754.09 L304.19,754.09 L305.63,754.09 L307.08,754.09 L308.52,754.09 L309.96,754.09 L311.41,754.09 L312.85,754.09 L314.29,754.09 L315.73,754.09 L317.18,754.09 L318.62,754.09 L320.06,754.09 L321.50,754.09 L322.94,754.09 L324.39,754.09 L325.83,754.09 L327.27,754.09 L328.71,754.09 L330.16,754.09 L330.16,755.00 L43.10,755.00 Z" fill="#ff6466" fill-opacity="0.4" stroke="none"/>
<path d="M43.10,754.02 L44.54,754.02 L45.98,754.01 L47.43,754.01 L48.87,754.01 L50.31,754.00 L51.76,754.00 L53.20,753.99 L54.64,753.99 L56.08,753.98 L57.52,753.97 L58.97,753.96 L60.41,753.95 L61.85,753.94 L63.30,753.92 L64.74,753.90 L66.18,753.87 L67.62,753.83 L69.06,753.78 L70.51,753.71 L71.95,753.61 L73.39,753.48 L74.84,753.31 L76.28,753.08 L77.72,752.79 L79.16,752.41 L80.60,751.93 L82.05,751.34 L83.49,750.60 L84.93,749.71 L86.38,748.65 L87.82,747.41 L89.26,745.98 L90.70,744.36 L92.14,742.57 L93.59,740.62 L95.03,738.55 L96.47,736.39 L97.91,734.19 L99.36,732.02 L100.80,729.95 L102.24,728.04 L103.69,726.36 L105.13,724.99 L106.57,723.98 L108.01,723.37 L109.45,723.20 L110.90,723.47 L112.34,724.16 L113.78,725.26 L115.22,726.71 L116.67,728.44 L118.11,730.39 L119.55,732.49 L121.00,734.67 L122.44,736.86 L123.88,739.01 L125.32,741.06 L126.76,742.97 L128.21,744.73 L129.65,746.31 L131.09,747.69 L132.53,748.90 L133.98,749.92 L135.42,750.77 L136.86,751.48 L138.31,752.05 L139.75,752.50 L141.19,752.86 L142.63,753.14 L144.07,753.35 L145.52,753.51 L146.96,753.63 L148.40,753.72 L149.84,753.79 L151.29,753.84 L152.73,753.88 L154.17,753.90 L155.61,753.92 L157.06,753.94 L158.50,753.95 L159.94,753.96 L161.38,753.97 L162.83,753.98 L164.27,753.99 L165.71,753.99 L167.16,754.00 L168.60,754.00 L170.04,754.01 L171.48,754.01 L172.92,754.01 L174.37,754.02 L175.81,754.02 L177.25,754.02 L178.69,754.03 L180.14,754.03 L181.58,754.03 L183.02,754.04 L184.46,754.04 L185.91,754.04 L187.35,754.04 L188.79,754.04 L190.23,754.05 L191.68,754.05 L193.12,754.05 L194.56,754.05 L196.00,754.05 L197.45,754.05 L198.89,754.06 L200.33,754.06 L201.77,754.06 L203.22,754.06 L204.66,754.06 L206.10,754.06 L207.54,754.06 L208.99,754.06 L210.43,754.07 L211.87,754.07 L213.31,754.07 L214.76,754.07 L216.20,754.07 L217.64,754.07 L219.08,754.07 L220.53,754.07 L221.97,754.07 L223.41,754.07 L224.85,754.07 L226.30,754.07 L227.74,754.07 L229.18,754.08 L230.62,754.08 L232.07,754.08 L233.51,754.08 L234.95,754.08 L236.39,754.08 L237.84,754.08 L239.28,754.08 L240.72,754.08 L242.16,754.08 L243.61,754.08 L245.05,754.08 L246.49,754.08 L247.93,754.08 L249.38,754.08 L250.82,754.08 L252.26,754.08 L253.70,754.08 L255.15,754.08 L256.59,754.08 L258.03,754.08 L259.47,754.08 L260.92,754.08 L262.36,754.08 L263.80,754.08 L265.25,754.09 L266.69,754.09 L268.13,754.09 L269.57,754.09 L271.01,754.09 L272.46,754.09 L273.90,754.09 L275.34,754.09 L276.78,754.09 L278.23,754.09 L279.67,754.09 L281.11,754.09 L282.56,754.09 L284.00,754.09 L285.44,754.09 L286.88,754.09 L288.32,754.09 L289.77,754.09 L291.21,754.09 L292.65,754.09 L294.09,754.09 L295.54,754.09 L296.98,754.09 L298.42,754.09 L299.87,754.09 L301.31,754.09 L302.75,754.09 L304.19,754.09 L305.63,754.09 L307.08,754.09 L308.52,754.09 L309.96,754.09 L311.41,754.09 L312.85,754.09 L314.29,754.09 L315.73,754.09 L317.18,754.09 L318.62,754.09 L320.06,754.09 L321.50,754.09 L322.94,754.09 L324.39,754.09 L325.83,754.09 L327.27,754.09 L328.71,754.09 L330.16,754.09" fill="none" stroke="#d01818" stroke-width="1.3" stroke-linejoin="round"/>
<path d="M43.10,754.05 L44.54,754.05 L45.98,754.05 L47.43,754.05 L48.87,754.04 L50.31,754.04 L51.76,754.04 L53.20,754.04 L54.64,754.04 L56.08,754.04 L57.52,754.04 L58.97,754.04 L60.41,754.04 L61.85,754.04 L63.30,754.04 L64.74,754.04 L66.18,754.04 L67.62,754.04 L69.06,754.03 L70.51,754.03 L71.95,754.03 L73.39,754.03 L74.84,754.03 L76.28,754.03 L77.72,754.03 L79.16,754.03 L80.60,754.03 L82.05,754.03 L83.49,754.03 L84.93,754.02 L86.38,754.02 L87.82,754.02 L89.26,754.02 L90.70,754.02 L92.14,754.02 L93.59,754.02 L95.03,754.02 L96.47,754.02 L97.91,754.01 L99.36,754.01 L100.80,754.01 L102.24,754.01 L103.69,754.01 L105.13,754.01 L106.57,754.01 L108.01,754.00 L109.45,754.00 L110.90,754.00 L112.34,754.00 L113.78,754.00 L115.22,754.00 L116.67,754.00 L118.11,753.99 L119.55,753.99 L121.00,753.99 L122.44,753.99 L123.88,753.99 L125.32,753.98 L126.76,753.98 L128.21,753.98 L129.65,753.98 L131.09,753.98 L132.53,753.97 L133.98,753.97 L135.42,753.97 L136.86,753.97 L138.31,753.97 L139.75,753.96 L141.19,753.96 L142.63,753.96 L144.07,753.95 L145.52,753.95 L146.96,753.95 L148.40,753.95 L149.84,753.94 L151.29,753.94 L152.73,753.94 L154.17,753.93 L155.61,753.93 L157.06,753.93 L158.50,753.92 L159.94,753.92 L161.38,753.92 L162.83,753.91 L164.27,753.91 L165.71,753.90 L167.16,753.90 L168.60,753.89 L170.04,753.89 L171.48,753.89 L172.92,753.88 L174.37,753.88 L175.81,753.87 L177.25,753.86 L178.69,753.86 L180.14,753.85 L181.58,753.85 L183.02,753.84 L184.46,753.83 L185.91,753.83 L187.35,753.82 L188.79,753.81 L190.23,753.81 L191.68,753.80 L193.12,753.79 L194.56,753.78 L196.00,753.77 L197.45,753.76 L198.89,753.75 L200.33,753.74 L201.77,753.73 L203.22,753.72 L204.66,753.71 L206.10,753.70 L207.54,753.68 L208.99,753.67 L210.43,753.66 L211.87,753.64 L213.31,753.63 L214.76,753.61 L216.20,753.59 L217.64,753.58 L219.08,753.56 L220.53,753.54 L221.97,753.51 L223.41,753.49 L224.85,753.47 L226.30,753.44 L227.74,753.41 L229.18,753.38 L230.62,753.35 L232.07,753.31 L233.51,753.26 L234.95,753.22 L236.39,753.16 L237.84,753.10 L239.28,753.04 L240.72,752.96 L242.16,752.87 L243.61,752.76 L245.05,752.64 L246.49,752.50 L247.93,752.34 L249.38,752.15 L250.82,751.93 L252.26,751.68 L253.70,751.40 L255.15,751.06 L256.59,750.69 L258.03,750.26 L259.47,749.77 L260.92,749.23 L262.36,748.62 L263.80,747.95 L265.25,747.21 L266.69,746.39 L268.13,745.51 L269.57,744.55 L271.01,743.53 L272.46,742.45 L273.90,741.31 L275.34,740.13 L276.78,738.90 L278.23,737.65 L279.67,736.39 L281.11,735.13 L282.56,733.89 L284.00,732.70 L285.44,731.57 L286.88,730.53 L288.32,729.60 L289.77,728.81 L291.21,728.18 L292.65,727.72 L294.09,727.46 L295.54,727.41 L296.98,727.55 L298.42,727.89 L299.87,728.43 L301.31,729.13 L302.75,729.98 L304.19,730.96 L305.63,732.04 L307.08,733.20 L308.52,734.41 L309.96,735.66 L311.41,736.92 L312.85,738.18 L314.29,739.43 L315.73,740.64 L317.18,741.80 L318.62,742.92 L320.06,743.98 L321.50,744.97 L322.94,745.89 L324.39,746.75 L325.83,747.53 L327.27,748.24 L328.71,748.89 L330.16,749.47 L330.16,755.00 L43.10,755.00 Z" fill="#39ffff" fill-opacity="0.4" stroke="none"/>
<path d="M43.10,754.05 L44.54,754.05 L45.98,754.05 L47.43,754.05 L48.87,754.04 L50.31,754.04 L51.76,754.04 L53.20,754.04 L54.64,754.04 L56.08,754.04 L57.52,754.04 L58.97,754.04 L60.41,754.04 L61.85,754.04 L63.30,754.04 L64.74,754.04 L66.18,754.04 L67.62,754.04 L69.06,754.03 L70.51,754.03 L71.95,754.03 L73.39,754.03 L74.84,754.03 L76.28,754.03 L77.72,754.03 L79.16,754.03 L80.60,754.03 L82.05,754.03 L83.49,754.03 L84.93,754.02 L86.38,754.02 L87.82,754.02 L89.26,754.02 L90.70,754.02 L92.14,754.02 L93.59,754.02 L95.03,754.02 L96.47,754.02 L97.91,754.01 L99.36,754.01 L100.80,754.01 L102.24,754.01 L103.69,754.01 L105.13,754.01 L106.57,754.01 L108.01,754.00 L109.45,754.00 L110.90,754.00 L112.34,754.00 L113.78,754.00 L115.22,754.00 L116.67,754.00 L118.11,753.99 L119.55,753.99 L121.00,753.99 L122.44,753.99 L123.88,753.99 L125.32,753.98 L126.76,753.98 L128.21,753.98 L129.65,753.98 L131.09,753.98 L132.53,753.97 L133.98,753.97 L135.42,753.97 L136.86,753.97 L138.31,753.97 L139.75,753.96 L141.19,753.96 L142.63,753.96 L144.07,753.95 L145.52,753.95 L146.96,753.95 L148.40,753.95 L149.84,753.94 L151.29,753.94 L152.73,753.94 L154.17,753.93 L155.61,753.93 L157.06,753.93 L158.50,753.92 L159.94,753.92 L161.38,753.92 L162.83,753.91 L164.27,753.91 L165.71,753.90 L167.16,753.90 L168.60,753.89 L170.04,753.89 L171.48,753.89 L172.92,753.88 L174.37,753.88 L175.81,753.87 L177.25,753.86 L178.69,753.86 L180.14,753.85 L181.58,753.85 L183.02,753.84 L184.46,753.83 L185.91,753.83 L187.35,753.82 L188.79,753.81 L190.23,753.81 L191.68,753.80 L193.12,753.79 L194.56,753.78 L196.00,753.77 L197.45,753.76 L198.89,753.75 L200.33,753.74 L201.77,753.73 L203.22,753.72 L204.66,753.71 L206.10,753.70 L207.54,753.68 L208.99,753.67 L210.43,753.66 L211.87,753.64 L213.31,753.63 L214.76,753.61 L216.20,753.59 L217.64,753.58 L219.08,753.56 L220.53,753.54 L221.97,753.51 L223.41,753.49 L224.85,753.47 L226.30,753.44 L227.74,753.41 L229.18,753.38 L230.62,753.35 L232.07,753.31 L233.51,753.26 L234.95,753.22 L236.39,753.16 L237.84,753.10 L239.28,753.04 L240.72,752.96 L242.16,752.87 L243.61,752.76 L245.05,752.64 L246.49,752.50 L247.93,752.34 L249.38,752.15 L250.82,751.93 L252.26,751.68 L253.70,751.40 L255.15,751.06 L256.59,750.69 L258.03,750.26 L259.47,749.77 L260.92,749.23 L262.36,748.62 L263.80,747.95 L265.25,747.21 L266.69,746.39 L268.13,745.51 L269.57,744.55 L271.01,743.53 L272.46,742.45 L273.90,741.31 L275.34,740.13 L276.78,738.90 L278.23,737.65 L279.67,736.39 L281.11,735.13 L282.56,733.89 L284.00,732.70 L285.44,731.57 L286.88,730.53 L288.32,729.60 L289.77,728.81 L291.21,728.18 L292.65,727.72 L294.09,727.46 L295.54,727.41 L296.98,727.55 L298.42,727.89 L299.87,728.43 L301.31,729.13 L302.75,729.98 L304.19,730.96 L305.63,732.04 L307.08,733.20 L308.52,734.41 L309.96,735.66 L311.41,736.92 L312.85,738.18 L314.29,739.43 L315.73,740.64 L317.18,741.80 L318.62,742.92 L320.06,743.98 L321.50,744.97 L322.94,745.89 L324.39,746.75 L325.83,747.53 L327.27,748.24 L328.71,748.89 L330.16,749.47" fill="none" stroke="#4a90f0" stroke-width="1.3" stroke-linejoin="round"/>
<path d="M43.10,751.92 L44.54,751.83 L45.98,751.71 L47.43,751.57 L48.87,751.39 L50.31,751.16 L51.76,750.87 L53.20,750.50 L54.64,750.05 L56.08,749.49 L57.52,748.81 L58.97,747.99 L60.41,747.01 L61.85,745.86 L63.30,744.54 L64.74,743.03 L66.18,741.34 L67.62,739.49 L69.06,737.49 L70.51,735.37 L71.95,733.17 L73.39,730.92 L74.84,728.68 L76.28,726.49 L77.72,724.39 L79.16,722.43 L80.60,720.63 L82.05,719.03 L83.49,717.61 L84.93,716.38 L86.38,715.32 L87.82,714.39 L89.26,713.55 L90.70,712.74 L92.14,711.92 L93.59,711.04 L95.03,710.05 L96.47,708.92 L97.91,707.64 L99.36,706.20 L100.80,704.61 L102.24,702.89 L103.69,701.09 L105.13,699.25 L106.57,697.41 L108.01,695.61 L109.45,693.88 L110.90,692.25 L112.34,690.72 L113.78,689.28 L115.22,687.91 L116.67,686.57 L118.11,685.23 L119.55,683.85 L121.00,682.39 L122.44,680.84 L123.88,679.15 L125.32,677.34 L126.76,675.38 L128.21,673.29 L129.65,671.09 L131.09,668.80 L132.53,666.46 L133.98,664.09 L135.42,661.73 L136.86,659.41 L138.31,657.17 L139.75,655.02 L141.19,652.97 L142.63,651.04 L144.07,649.20 L145.52,647.46 L146.96,645.78 L148.40,644.13 L149.84,642.50 L151.29,640.84 L152.73,639.13 L154.17,637.34 L155.61,635.46 L157.06,633.47 L158.50,631.36 L159.94,629.13 L161.38,626.80 L162.83,624.36 L164.27,621.82 L165.71,619.22 L167.16,616.55 L168.60,613.83 L170.04,611.08 L171.48,608.30 L172.92,605.48 L174.37,602.64 L175.81,599.75 L177.25,596.79 L178.69,593.77 L180.14,590.64 L181.58,587.39 L183.02,583.99 L184.46,580.43 L185.91,576.69 L187.35,572.76 L188.79,568.65 L190.23,564.37 L191.68,559.94 L193.12,555.39 L194.56,550.77 L196.00,546.11 L197.45,541.49 L198.89,536.94 L200.33,532.53 L201.77,528.30 L203.22,524.29 L204.66,520.52 L206.10,517.02 L207.54,513.79 L208.99,510.84 L210.43,508.16 L211.87,505.74 L213.31,503.59 L214.76,501.68 L216.20,500.04 L217.64,498.65 L219.08,497.52 L220.53,496.68 L221.97,496.13 L223.41,495.91 L224.85,496.03 L226.30,496.53 L227.74,497.44 L229.18,498.78 L230.62,500.58 L232.07,502.86 L233.51,505.65 L234.95,508.96 L236.39,512.78 L237.84,517.13 L239.28,521.98 L240.72,527.33 L242.16,533.13 L243.61,539.36 L245.05,545.97 L246.49,552.92 L247.93,560.16 L249.38,567.64 L250.82,575.30 L252.26,583.08 L253.70,590.92 L255.15,598.79 L256.59,606.61 L258.03,614.33 L259.47,621.92 L260.92,629.31 L262.36,636.48 L263.80,643.37 L265.25,649.96 L266.69,656.21 L268.13,662.11 L269.57,667.63 L271.01,672.77 L272.46,677.52 L273.90,681.87 L275.34,685.83 L276.78,689.41 L278.23,692.62 L279.67,695.50 L281.11,698.05 L282.56,700.32 L284.00,702.33 L285.44,704.12 L286.88,705.74 L288.32,707.21 L289.77,708.58 L291.21,709.89 L292.65,711.18 L294.09,712.47 L295.54,713.80 L296.98,715.17 L298.42,716.60 L299.87,718.10 L301.31,719.65 L302.75,721.25 L304.19,722.89 L305.63,724.56 L307.08,726.23 L308.52,727.90 L309.96,729.54 L311.41,731.16 L312.85,732.73 L314.29,734.25 L315.73,735.70 L317.18,737.09 L318.62,738.41 L320.06,739.64 L321.50,740.79 L322.94,741.86 L324.39,742.85 L325.83,743.76 L327.27,744.59 L328.71,745.34 L330.16,746.02" fill="none" stroke="#6a6a6a" stroke-width="1.05" stroke-linejoin="round"/>
<path d="M43.10,751.92 L44.54,751.83 L45.98,751.71 L47.43,751.57 L48.87,751.39 L50.31,751.16 L51.76,750.87 L53.20,750.50 L54.64,750.05 L56.08,749.49 L57.52,748.81 L58.97,747.99 L60.41,747.01 L61.85,745.86 L63.30,744.54 L64.74,743.03 L66.18,741.34 L67.62,739.49 L69.06,737.49 L70.51,735.37 L71.95,733.17 L73.39,730.92 L74.84,728.68 L76.28,726.49 L77.72,724.39 L79.16,722.43 L80.60,720.63 L82.05,719.03 L83.49,717.61 L84.93,716.38 L86.38,715.32 L87.82,714.39 L89.26,713.55 L90.70,712.74 L92.14,711.92 L93.59,711.04 L95.03,710.05 L96.47,708.92 L97.91,707.64 L99.36,706.20 L100.80,704.61 L102.24,702.89 L103.69,701.09 L105.13,699.25 L106.57,697.41 L108.01,695.61 L109.45,693.88 L110.90,692.25 L112.34,690.72 L113.78,689.28 L115.22,687.91 L116.67,686.57 L118.11,685.23 L119.55,683.85 L121.00,682.39 L122.44,680.84 L123.88,679.15 L125.32,677.34 L126.76,675.38 L128.21,673.29 L129.65,671.09 L131.09,668.80 L132.53,666.46 L133.98,664.09 L135.42,661.73 L136.86,659.41 L138.31,657.17 L139.75,655.02 L141.19,652.97 L142.63,651.04 L144.07,649.20 L145.52,647.46 L146.96,645.78 L148.40,644.13 L149.84,642.50 L151.29,640.84 L152.73,639.13 L154.17,637.34 L155.61,635.46 L157.06,633.47 L158.50,631.36 L159.94,629.13 L161.38,626.80 L162.83,624.36 L164.27,621.82 L165.71,619.22 L167.16,616.55 L168.60,613.83 L170.04,611.08 L171.48,608.30 L172.92,605.48 L174.37,602.64 L175.81,599.75 L177.25,596.79 L178.69,593.77 L180.14,590.64 L181.58,587.39 L183.02,583.99 L184.46,580.43 L185.91,576.69 L187.35,572.76 L188.79,568.65 L190.23,564.37 L191.68,559.94 L193.12,555.39 L194.56,550.77 L196.00,546.11 L197.45,541.49 L198.89,536.94 L200.33,532.53 L201.77,528.30 L203.22,524.29 L204.66,520.52 L206.10,517.02 L207.54,513.79 L208.99,510.84 L210.43,508.16 L211.87,505.74 L213.31,503.59 L214.76,501.68 L216.20,500.04 L217.64,498.65 L219.08,497.52 L220.53,496.68 L221.97,496.13 L223.41,495.91 L224.85,496.03 L226.30,496.53 L227.74,497.44 L229.18,498.78 L230.62,500.58 L232.07,502.86 L233.51,505.65 L234.95,508.96 L236.39,512.78 L237.84,517.13 L239.28,521.98 L240.72,527.33 L242.16,533.13 L243.61,539.36 L245.05,545.97 L246.49,552.92 L247.93,560.16 L249.38,567.64 L250.82,575.30 L252.26,583.08 L253.70,590.92 L255.15,598.79 L256.59,606.61 L258.03,614.33 L259.47,621.92 L260.92,629.31 L262.36,636.48 L263.80,643.37 L265.25,649.96 L266.69,656.21 L268.13,662.11 L269.57,667.63 L271.01,672.77 L272.46,677.52 L273.90,681.87 L275.34,685.83 L276.78,689.41 L278.23,692.62 L279.67,695.50 L281.11,698.05 L282.56,700.32 L284.00,702.33 L285.44,704.12 L286.88,705.74 L288.32,707.21 L289.77,708.58 L291.21,709.89 L292.65,711.18 L294.09,712.47 L295.54,713.80 L296.98,715.17 L298.42,716.60 L299.87,718.10 L301.31,719.65 L302.75,721.25 L304.19,722.89 L305.63,724.56 L307.08,726.23 L308.52,727.90 L309.96,729.54 L311.41,731.16 L312.85,732.73 L314.29,734.25 L315.73,735.70 L317.18,737.09 L318.62,738.41 L320.06,739.64 L321.50,740.79 L322.94,741.86 L324.39,742.85 L325.83,743.76 L327.27,744.59 L328.71,745.34 L330.16,746.02" fill="none" stroke="#f03838" stroke-width="1.3" stroke-dasharray="4.5,5.3"/>
<line x1="43.0" y1="753.30" x2="201.77" y2="753.30" stroke="#e8b030" stroke-width="0.9"/>
<line x1="268.13" y1="753.60" x2="331.5" y2="753.60" stroke="#c8d850" stroke-width="0.9"/>
<line x1="43.0" y1="755.00" x2="276.78" y2="755.00" stroke="#78a6ec" stroke-width="1.5"/>
<line x1="276.78" y1="755.20" x2="331.5" y2="755.20" stroke="#d84848" stroke-width="1.3"/>
</g>
<text x="187.25" y="787.80" text-anchor="middle" font-size="11.8">Wavenumber / cm<tspan dx="1.6" dy="-5" font-size="8.4">-1</tspan></text>
<text transform="translate(14.5,598.30) rotate(-90)" text-anchor="middle" font-size="12">Absorbance / a.u.</text>
<line x1="61.3" y1="460.2" x2="81.1" y2="460.2" stroke="#707070" stroke-width="1.2"/>
<text x="84.3" y="463.2" font-size="8.6">Amide-I'-band</text>
<line x1="61.3" y1="470.5" x2="76.3" y2="470.5" stroke="#f03838" stroke-width="1.3" stroke-dasharray="5,4.9"/>
<text x="84.3" y="473.5" font-size="8.6">Fit</text>
<rect x="62.3" y="480.8" width="19" height="7.8" fill="#cbff93" fill-opacity="0.4" stroke="#bbb" stroke-opacity="0.6" stroke-width="0.6"/>
<text x="84.8" y="487.7" font-size="8.6">1685 cm<tspan dx="0.8" dy="-3.8" font-size="6">-1</tspan></text>
<rect x="62.3" y="494.8" width="19" height="7.8" fill="#ff6466" fill-opacity="0.4" stroke="#bbb" stroke-opacity="0.6" stroke-width="0.6"/>
<text x="84.8" y="501.6" font-size="8.6">1676 cm<tspan dx="0.8" dy="-3.8" font-size="6">-1</tspan></text>
<rect x="62.3" y="508.7" width="19" height="7.8" fill="#82afee" fill-opacity="0.4" stroke="#bbb" stroke-opacity="0.6" stroke-width="0.6"/>
<text x="84.8" y="515.6" font-size="8.6">1664 cm<tspan dx="0.8" dy="-3.8" font-size="6">-1</tspan></text>
<rect x="62.3" y="522.6" width="19" height="7.8" fill="#7539c5" fill-opacity="0.4" stroke="#bbb" stroke-opacity="0.6" stroke-width="0.6"/>
<text x="84.8" y="529.5" font-size="8.6">1653 cm<tspan dx="0.8" dy="-3.8" font-size="6">-1</tspan></text>
<rect x="62.3" y="536.6" width="19" height="7.8" fill="#fad9a7" fill-opacity="0.4" stroke="#bbb" stroke-opacity="0.6" stroke-width="0.6"/>
<text x="84.8" y="543.5" font-size="8.6">1643 cm<tspan dx="0.8" dy="-3.8" font-size="6">-1</tspan></text>
<rect x="62.3" y="550.6" width="19" height="7.8" fill="#8e8e8e" fill-opacity="0.4" stroke="#bbb" stroke-opacity="0.6" stroke-width="0.6"/>
<text x="84.8" y="557.5" font-size="8.6">1635 cm<tspan dx="0.8" dy="-3.8" font-size="6">-1</tspan></text>
<rect x="62.3" y="564.5" width="19" height="7.8" fill="#39ffff" fill-opacity="0.4" stroke="#bbb" stroke-opacity="0.6" stroke-width="0.6"/>
<text x="84.8" y="571.4" font-size="8.6">1611 cm<tspan dx="0.8" dy="-3.8" font-size="6">-1</tspan></text>
<text x="1.0" y="426.0" font-family='"Liberation Serif", serif' font-size="28">c)</text>
<path d="M387.50,292.60 C388.25,291.00 390.37,285.23 392.00,283.00 C393.63,280.77 395.63,279.20 397.30,279.20 C398.97,279.20 400.25,280.65 402.00,283.00 C403.75,285.35 406.30,292.47 407.80,293.30 C409.30,294.13 409.60,292.63 411.00,288.00 C412.40,283.37 414.62,272.83 416.20,265.50 C417.78,258.17 418.95,249.85 420.50,244.00 C422.05,238.15 424.08,231.73 425.50,230.40 C426.92,229.07 427.75,232.23 429.00,236.00 C430.25,239.77 431.43,247.47 433.00,253.00 C434.57,258.53 436.90,267.70 438.40,269.20 C439.90,270.70 440.73,266.20 442.00,262.00 C443.27,257.80 444.47,248.87 446.00,244.00 C447.53,239.13 449.70,234.63 451.20,232.80 C452.70,230.97 453.70,232.53 455.00,233.00 C456.30,233.47 457.17,236.27 459.00,235.60 C460.83,234.93 463.60,231.22 466.00,229.00 C468.40,226.78 471.07,224.63 473.40,222.30 C475.73,219.97 477.73,216.83 480.00,215.00 C482.27,213.17 484.83,211.63 487.00,211.30 C489.17,210.97 491.17,211.83 493.00,213.00 C494.83,214.17 496.50,218.47 498.00,218.30 C499.50,218.13 500.67,215.55 502.00,212.00 C503.33,208.45 504.57,201.93 506.00,197.00 C507.43,192.07 509.27,183.57 510.60,182.40 C511.93,181.23 512.52,186.17 514.00,190.00 C515.48,193.83 518.20,203.55 519.50,205.40 C520.80,207.25 520.92,205.33 521.80,201.10 C522.68,196.87 523.88,187.83 524.80,180.00 C525.72,172.17 526.52,163.27 527.30,154.10 C528.08,144.93 528.75,133.68 529.50,125.00 C530.25,116.32 530.85,108.03 531.80,102.00 C532.75,95.97 533.88,88.80 535.20,88.80 C536.52,88.80 538.20,97.82 539.70,102.00 C541.20,106.18 542.55,115.57 544.20,113.90 C545.85,112.23 548.13,98.65 549.60,92.00 C551.07,85.35 551.73,78.93 553.00,74.00 C554.27,69.07 555.87,62.73 557.20,62.40 C558.53,62.07 559.78,67.88 561.00,72.00 C562.22,76.12 563.33,81.27 564.50,87.10 C565.67,92.93 566.75,99.15 568.00,107.00 C569.25,114.85 570.52,122.22 572.00,134.20 C573.48,146.18 575.67,165.48 576.90,178.90 C578.13,192.32 578.55,204.85 579.40,214.70 C580.25,224.55 581.17,231.78 582.00,238.00 C582.83,244.22 583.38,248.22 584.40,252.00 C585.42,255.78 586.65,258.52 588.10,260.70 C589.55,262.88 591.62,263.47 593.10,265.10 C594.58,266.73 595.77,269.05 597.00,270.50 C598.23,271.95 599.33,273.72 600.50,273.80 C601.67,273.88 602.55,272.45 604.00,271.00 C605.45,269.55 607.08,266.95 609.20,265.10 C611.32,263.25 614.33,261.47 616.70,259.90 C619.07,258.33 621.13,255.87 623.40,255.70 C625.67,255.53 628.20,258.48 630.30,258.90 C632.40,259.32 634.35,257.28 636.00,258.20 C637.65,259.12 638.95,261.43 640.20,264.40 C641.45,267.37 642.47,271.45 643.50,276.00 C644.53,280.55 645.20,283.92 646.40,291.70 C647.60,299.48 649.98,317.53 650.70,322.70" fill="none" stroke="#1f78e6" stroke-width="1.3" stroke-linejoin="round" stroke-linecap="round"/>
<path d="M410.20,111.10 C410.50,114.25 411.20,121.85 412.00,130.00 C412.80,138.15 414.00,151.00 415.00,160.00 C416.00,169.00 417.00,177.67 418.00,184.00 C419.00,190.33 419.87,194.62 421.00,198.00 C422.13,201.38 423.63,205.30 424.80,204.30 C425.97,203.30 426.97,197.72 428.00,192.00 C429.03,186.28 430.00,177.00 431.00,170.00 C432.00,163.00 433.00,155.17 434.00,150.00 C435.00,144.83 435.95,141.25 437.00,139.00 C438.05,136.75 439.13,135.83 440.30,136.50 C441.47,137.17 442.72,139.75 444.00,143.00 C445.28,146.25 446.83,152.50 448.00,156.00 C449.17,159.50 450.07,162.30 451.00,164.00 C451.93,165.70 452.43,166.37 453.60,166.20 C454.77,166.03 456.17,163.90 458.00,163.00 C459.83,162.10 462.60,160.97 464.60,160.80 C466.60,160.63 468.43,161.30 470.00,162.00 C471.57,162.70 472.57,164.18 474.00,165.00 C475.43,165.82 477.10,166.90 478.60,166.90 C480.10,166.90 481.60,166.32 483.00,165.00 C484.40,163.68 485.67,161.83 487.00,159.00 C488.33,156.17 489.67,151.50 491.00,148.00 C492.33,144.50 493.83,140.15 495.00,138.00 C496.17,135.85 496.83,135.10 498.00,135.10 C499.17,135.10 500.45,136.52 502.00,138.00 C503.55,139.48 505.97,143.83 507.30,144.00 C508.63,144.17 509.03,142.00 510.00,139.00 C510.97,136.00 512.10,129.83 513.10,126.00 C514.10,122.17 515.08,118.07 516.00,116.00 C516.92,113.93 517.77,112.93 518.60,113.60 C519.43,114.27 520.17,116.57 521.00,120.00 C521.83,123.43 522.75,124.20 523.60,134.20 C524.45,144.20 525.28,169.03 526.10,180.00 C526.92,190.97 527.68,191.73 528.50,200.00 C529.32,208.27 529.97,221.15 531.00,229.60 C532.03,238.05 533.67,246.47 534.70,250.70 C535.73,254.93 536.15,255.40 537.20,255.00 C538.25,254.60 539.88,249.97 541.00,248.30 C542.12,246.63 542.87,244.38 543.90,245.00 C544.93,245.62 545.83,246.28 547.20,252.00 C548.57,257.72 550.53,268.33 552.10,279.30 C553.67,290.27 555.35,310.65 556.60,317.80 C557.85,324.95 558.48,322.83 559.60,322.20 C560.72,321.57 561.85,321.98 563.30,314.00 C564.75,306.02 566.65,292.50 568.30,274.30 C569.95,256.10 571.97,220.52 573.20,204.80 C574.43,189.08 574.98,189.13 575.70,180.00 C576.42,170.87 576.88,160.52 577.50,150.00 C578.12,139.48 578.65,126.90 579.40,116.90 C580.15,106.90 581.07,97.48 582.00,90.00 C582.93,82.52 583.73,76.62 585.00,72.00 C586.27,67.38 588.10,62.97 589.60,62.30 C591.10,61.63 592.38,64.28 594.00,68.00 C595.62,71.72 597.63,79.27 599.30,84.60 C600.97,89.93 602.35,94.20 604.00,100.00 C605.65,105.80 607.53,112.90 609.20,119.40 C610.87,125.90 612.35,132.40 614.00,139.00 C615.65,145.60 617.60,153.83 619.10,159.00 C620.60,164.17 621.47,166.18 623.00,170.00 C624.53,173.82 627.42,179.92 628.30,181.90" fill="none" stroke="#e0242c" stroke-width="1.3" stroke-linejoin="round" stroke-linecap="round"/>
<line x1="374.6" y1="36.0" x2="663.1" y2="36.0" stroke="#858585" stroke-width="1.5"/>
<line x1="374.6" y1="348.3" x2="663.1" y2="348.3" stroke="#222" stroke-width="1.1"/>
<line x1="374.6" y1="35.5" x2="374.6" y2="348.8" stroke="#1f78e6" stroke-width="1.3"/>
<line x1="663.1" y1="35.5" x2="663.1" y2="348.8" stroke="#e0242c" stroke-width="1.3"/>
<line x1="387.60" y1="348.3" x2="387.60" y2="344.1" stroke="#222" stroke-width="1"/>
<line x1="387.60" y1="36.0" x2="387.60" y2="40.2" stroke="#333" stroke-width="1"/>
<text x="387.60" y="361.90" text-anchor="middle" font-size="10">1700</text>
<line x1="413.87" y1="348.3" x2="413.87" y2="345.7" stroke="#222" stroke-width="1"/>
<line x1="413.87" y1="36.0" x2="413.87" y2="38.6" stroke="#333" stroke-width="1"/>
<line x1="440.14" y1="348.3" x2="440.14" y2="344.1" stroke="#222" stroke-width="1"/>
<line x1="440.14" y1="36.0" x2="440.14" y2="40.2" stroke="#333" stroke-width="1"/>
<text x="440.14" y="361.90" text-anchor="middle" font-size="10">1680</text>
<line x1="466.41" y1="348.3" x2="466.41" y2="345.7" stroke="#222" stroke-width="1"/>
<line x1="466.41" y1="36.0" x2="466.41" y2="38.6" stroke="#333" stroke-width="1"/>
<line x1="492.68" y1="348.3" x2="492.68" y2="344.1" stroke="#222" stroke-width="1"/>
<line x1="492.68" y1="36.0" x2="492.68" y2="40.2" stroke="#333" stroke-width="1"/>
<text x="492.68" y="361.90" text-anchor="middle" font-size="10">1660</text>
<line x1="518.95" y1="348.3" x2="518.95" y2="345.7" stroke="#222" stroke-width="1"/>
<line x1="518.95" y1="36.0" x2="518.95" y2="38.6" stroke="#333" stroke-width="1"/>
<line x1="545.22" y1="348.3" x2="545.22" y2="344.1" stroke="#222" stroke-width="1"/>
<line x1="545.22" y1="36.0" x2="545.22" y2="40.2" stroke="#333" stroke-width="1"/>
<text x="545.22" y="361.90" text-anchor="middle" font-size="10">1640</text>
<line x1="571.49" y1="348.3" x2="571.49" y2="345.7" stroke="#222" stroke-width="1"/>
<line x1="571.49" y1="36.0" x2="571.49" y2="38.6" stroke="#333" stroke-width="1"/>
<line x1="597.76" y1="348.3" x2="597.76" y2="344.1" stroke="#222" stroke-width="1"/>
<line x1="597.76" y1="36.0" x2="597.76" y2="40.2" stroke="#333" stroke-width="1"/>
<text x="597.76" y="361.90" text-anchor="middle" font-size="10">1620</text>
<line x1="624.03" y1="348.3" x2="624.03" y2="345.7" stroke="#222" stroke-width="1"/>
<line x1="624.03" y1="36.0" x2="624.03" y2="38.6" stroke="#333" stroke-width="1"/>
<line x1="650.30" y1="348.3" x2="650.30" y2="344.1" stroke="#222" stroke-width="1"/>
<line x1="650.30" y1="36.0" x2="650.30" y2="40.2" stroke="#333" stroke-width="1"/>
<text x="650.30" y="361.90" text-anchor="middle" font-size="10">1600</text>
<line x1="374.6" y1="322.35" x2="378.8" y2="322.35" stroke="#1f78e6" stroke-width="1"/>
<line x1="663.1" y1="322.35" x2="658.9" y2="322.35" stroke="#e0242c" stroke-width="1"/>
<text x="369.20" y="325.95" text-anchor="end" font-size="10" fill="#222">0.0</text>
<line x1="374.6" y1="296.31" x2="377.20000000000005" y2="296.31" stroke="#1f78e6" stroke-width="1"/>
<line x1="663.1" y1="296.31" x2="660.5" y2="296.31" stroke="#e0242c" stroke-width="1"/>
<line x1="374.6" y1="270.27" x2="378.8" y2="270.27" stroke="#1f78e6" stroke-width="1"/>
<line x1="663.1" y1="270.27" x2="658.9" y2="270.27" stroke="#e0242c" stroke-width="1"/>
<text x="369.20" y="273.87" text-anchor="end" font-size="10" fill="#222">0.2</text>
<line x1="374.6" y1="244.23" x2="377.20000000000005" y2="244.23" stroke="#1f78e6" stroke-width="1"/>
<line x1="663.1" y1="244.23" x2="660.5" y2="244.23" stroke="#e0242c" stroke-width="1"/>
<line x1="374.6" y1="218.19" x2="378.8" y2="218.19" stroke="#1f78e6" stroke-width="1"/>
<line x1="663.1" y1="218.19" x2="658.9" y2="218.19" stroke="#e0242c" stroke-width="1"/>
<text x="369.20" y="221.79" text-anchor="end" font-size="10" fill="#222">0.4</text>
<line x1="374.6" y1="192.15" x2="377.20000000000005" y2="192.15" stroke="#1f78e6" stroke-width="1"/>
<line x1="663.1" y1="192.15" x2="660.5" y2="192.15" stroke="#e0242c" stroke-width="1"/>
<line x1="374.6" y1="166.11" x2="378.8" y2="166.11" stroke="#1f78e6" stroke-width="1"/>
<line x1="663.1" y1="166.11" x2="658.9" y2="166.11" stroke="#e0242c" stroke-width="1"/>
<text x="369.20" y="169.71" text-anchor="end" font-size="10" fill="#222">0.6</text>
<line x1="374.6" y1="140.07" x2="377.20000000000005" y2="140.07" stroke="#1f78e6" stroke-width="1"/>
<line x1="663.1" y1="140.07" x2="660.5" y2="140.07" stroke="#e0242c" stroke-width="1"/>
<line x1="374.6" y1="114.03" x2="378.8" y2="114.03" stroke="#1f78e6" stroke-width="1"/>
<line x1="663.1" y1="114.03" x2="658.9" y2="114.03" stroke="#e0242c" stroke-width="1"/>
<text x="369.20" y="117.63" text-anchor="end" font-size="10" fill="#222">0.8</text>
<line x1="374.6" y1="87.99" x2="377.20000000000005" y2="87.99" stroke="#1f78e6" stroke-width="1"/>
<line x1="663.1" y1="87.99" x2="660.5" y2="87.99" stroke="#e0242c" stroke-width="1"/>
<line x1="374.6" y1="61.95" x2="378.8" y2="61.95" stroke="#1f78e6" stroke-width="1"/>
<line x1="663.1" y1="61.95" x2="658.9" y2="61.95" stroke="#e0242c" stroke-width="1"/>
<text x="369.20" y="65.55" text-anchor="end" font-size="10" fill="#222">1.0</text>
<text x="518.85" y="381.30" text-anchor="middle" font-size="11.8">Wavenumber / cm<tspan dx="1.6" dy="-5" font-size="8.4">-1</tspan></text>
<text transform="translate(351.40,192.15) rotate(-90)" text-anchor="middle" font-size="12" fill="#1f78e6"><tspan font-style="italic">A</tspan> / a.u.</text>
<text transform="translate(683.50,189.15) rotate(-90)" text-anchor="middle" font-size="12.3" fill="#e0242c">∂<tspan font-size="8.6" dy="-4.6">2</tspan><tspan dy="4.6" font-style="italic">A</tspan> / ∂<tspan font-style="italic">ṽ</tspan><tspan font-size="8.6" dy="-4.6">2</tspan></text>
<text x="339.3" y="21.0" font-family='"Liberation Serif", serif' font-size="28">b)</text>
<path d="M395.80,675.50 C396.25,676.25 397.48,678.42 398.50,680.00 C399.52,681.58 400.65,683.33 401.90,685.00 C403.15,686.67 404.47,688.12 406.00,690.00 C407.53,691.88 409.60,696.23 411.10,696.30 C412.60,696.37 413.43,696.12 415.00,690.40 C416.57,684.68 419.00,669.90 420.50,662.00 C422.00,654.10 422.80,648.05 424.00,643.00 C425.20,637.95 426.27,632.18 427.70,631.70 C429.13,631.22 431.22,636.22 432.60,640.10 C433.98,643.98 434.83,650.73 436.00,655.00 C437.17,659.27 437.98,666.00 439.60,665.70 C441.22,665.40 444.03,655.93 445.70,653.20 C447.37,650.47 448.15,649.85 449.60,649.30 C451.05,648.75 452.87,651.07 454.40,649.90 C455.93,648.73 457.53,645.62 458.80,642.30 C460.07,638.98 460.78,633.37 462.00,630.00 C463.22,626.63 464.93,623.27 466.10,622.10 C467.27,620.93 467.83,622.38 469.00,623.00 C470.17,623.62 471.77,626.47 473.10,625.80 C474.43,625.13 475.62,621.00 477.00,619.00 C478.38,617.00 480.15,614.47 481.40,613.80 C482.65,613.13 483.33,614.27 484.50,615.00 C485.67,615.73 486.98,618.70 488.40,618.20 C489.82,617.70 491.43,613.75 493.00,612.00 C494.57,610.25 496.47,608.37 497.80,607.70 C499.13,607.03 499.90,607.72 501.00,608.00 C502.10,608.28 503.23,610.07 504.40,609.40 C505.57,608.73 506.83,605.63 508.00,604.00 C509.17,602.37 510.15,600.88 511.40,599.60 C512.65,598.32 514.27,597.95 515.50,596.30 C516.73,594.65 517.88,592.75 518.80,589.70 C519.72,586.65 520.42,581.28 521.00,578.00 C521.58,574.72 521.77,575.48 522.30,570.00 C522.83,564.52 523.42,554.27 524.20,545.10 C524.98,535.93 526.15,522.67 527.00,515.00 C527.85,507.33 528.48,502.67 529.30,499.10 C530.12,495.53 530.82,492.87 531.90,493.60 C532.98,494.33 534.42,500.57 535.80,503.50 C537.18,506.43 538.85,511.20 540.20,511.20 C541.55,511.20 542.37,508.07 543.90,503.50 C545.43,498.93 547.88,489.05 549.40,483.80 C550.92,478.55 551.98,474.55 553.00,472.00 C554.02,469.45 554.67,468.67 555.50,468.50 C556.33,468.33 557.18,469.55 558.00,471.00 C558.82,472.45 559.28,471.42 560.40,477.20 C561.52,482.98 563.68,495.23 564.70,505.70 C565.72,516.17 565.75,528.38 566.50,540.00 C567.25,551.62 568.47,566.55 569.20,575.40 C569.93,584.25 570.32,587.20 570.90,593.10 C571.48,599.00 571.95,603.43 572.70,610.80 C573.45,618.17 574.37,629.93 575.40,637.30 C576.43,644.67 577.22,650.17 578.90,655.00 C580.58,659.83 583.73,663.38 585.50,666.30 C587.27,669.22 588.15,670.67 589.50,672.50 C590.85,674.33 592.07,677.60 593.60,677.30 C595.13,677.00 597.30,673.25 598.70,670.70 C600.10,668.15 600.80,664.92 602.00,662.00 C603.20,659.08 604.57,654.03 605.90,653.20 C607.23,652.37 608.40,655.00 610.00,657.00 C611.60,659.00 613.92,664.70 615.50,665.20 C617.08,665.70 618.18,661.63 619.50,660.00 C620.82,658.37 621.95,654.35 623.40,655.40 C624.85,656.45 626.67,660.83 628.20,666.30 C629.73,671.77 631.20,677.70 632.60,688.20 C634.00,698.70 635.93,722.45 636.60,729.30" fill="none" stroke="#1f78e6" stroke-width="1.3" stroke-linejoin="round" stroke-linecap="round"/>
<path d="M416.60,534.60 C417.07,540.50 418.57,560.77 419.40,570.00 C420.23,579.23 420.87,584.17 421.60,590.00 C422.33,595.83 422.78,601.03 423.80,605.00 C424.82,608.97 426.42,614.17 427.70,613.80 C428.98,613.43 430.68,606.77 431.50,602.80 C432.32,598.83 431.88,595.47 432.60,590.00 C433.32,584.53 434.90,576.02 435.80,570.00 C436.70,563.98 436.83,558.12 438.00,553.90 C439.17,549.68 441.15,545.43 442.80,544.70 C444.45,543.97 446.13,548.05 447.90,549.50 C449.67,550.95 451.58,550.48 453.40,553.40 C455.22,556.32 457.37,563.40 458.80,567.00 C460.23,570.60 460.72,572.82 462.00,575.00 C463.28,577.18 465.17,579.77 466.50,580.10 C467.83,580.43 468.72,578.25 470.00,577.00 C471.28,575.75 473.03,573.43 474.20,572.60 C475.37,571.77 475.83,572.13 477.00,572.00 C478.17,571.87 479.87,572.80 481.20,571.80 C482.53,570.80 483.62,568.27 485.00,566.00 C486.38,563.73 488.17,560.20 489.50,558.20 C490.83,556.20 491.73,555.08 493.00,554.00 C494.27,552.92 495.77,553.37 497.10,551.70 C498.43,550.03 499.72,547.28 501.00,544.00 C502.28,540.72 503.63,535.17 504.80,532.00 C505.97,528.83 507.13,526.67 508.00,525.00 C508.87,523.33 509.10,522.73 510.00,522.00 C510.90,521.27 512.12,519.67 513.40,520.60 C514.68,521.53 516.45,521.70 517.70,527.60 C518.95,533.50 520.13,548.93 520.90,556.00 C521.67,563.07 521.57,560.37 522.30,570.00 C523.03,579.63 524.25,601.03 525.30,613.80 C526.35,626.57 527.50,638.93 528.60,646.60 C529.70,654.27 530.62,659.80 531.90,659.80 C533.18,659.80 534.92,649.97 536.30,646.60 C537.68,643.23 538.93,639.60 540.20,639.60 C541.47,639.60 542.55,640.68 543.90,646.60 C545.25,652.52 546.95,665.37 548.30,675.10 C549.65,684.83 550.65,695.97 552.00,705.00 C553.35,714.03 555.07,728.47 556.40,729.30 C557.73,730.13 558.62,721.95 560.00,710.00 C561.38,698.05 563.37,677.28 564.70,657.60 C566.03,637.92 567.08,606.50 568.00,591.90 C568.92,577.30 569.47,580.72 570.20,570.00 C570.93,559.28 571.48,541.23 572.40,527.60 C573.32,513.97 574.77,497.13 575.70,488.20 C576.63,479.27 577.08,477.28 578.00,474.00 C578.92,470.72 579.95,468.33 581.20,468.50 C582.45,468.67 583.87,472.08 585.50,475.00 C587.13,477.92 589.35,481.98 591.00,486.00 C592.65,490.02 593.93,493.27 595.40,499.10 C596.87,504.93 598.33,512.97 599.80,521.00 C601.27,529.03 602.75,539.63 604.20,547.30 C605.65,554.97 607.23,562.18 608.50,567.00 C609.77,571.82 610.88,574.70 611.80,576.20 C612.72,577.70 613.27,576.55 614.00,576.00 C614.73,575.45 615.83,573.42 616.20,572.90" fill="none" stroke="#e0242c" stroke-width="1.3" stroke-linejoin="round" stroke-linecap="round"/>
<line x1="371.6" y1="442.9" x2="660.1" y2="442.9" stroke="#606060" stroke-width="1.4"/>
<line x1="371.6" y1="755.2" x2="660.1" y2="755.2" stroke="#222" stroke-width="1.1"/>
<line x1="371.6" y1="442.4" x2="371.6" y2="755.7" stroke="#1f78e6" stroke-width="1.3"/>
<line x1="660.1" y1="442.4" x2="660.1" y2="755.7" stroke="#e0242c" stroke-width="1.3"/>
<line x1="395.30" y1="755.2" x2="395.30" y2="751.0" stroke="#222" stroke-width="1"/>
<text x="395.30" y="768.80" text-anchor="middle" font-size="10">1700</text>
<line x1="419.42" y1="755.2" x2="419.42" y2="752.6" stroke="#222" stroke-width="1"/>
<line x1="443.54" y1="755.2" x2="443.54" y2="751.0" stroke="#222" stroke-width="1"/>
<text x="443.54" y="768.80" text-anchor="middle" font-size="10">1680</text>
<line x1="467.66" y1="755.2" x2="467.66" y2="752.6" stroke="#222" stroke-width="1"/>
<line x1="491.78" y1="755.2" x2="491.78" y2="751.0" stroke="#222" stroke-width="1"/>
<text x="491.78" y="768.80" text-anchor="middle" font-size="10">1660</text>
<line x1="515.90" y1="755.2" x2="515.90" y2="752.6" stroke="#222" stroke-width="1"/>
<line x1="540.02" y1="755.2" x2="540.02" y2="751.0" stroke="#222" stroke-width="1"/>
<text x="540.02" y="768.80" text-anchor="middle" font-size="10">1640</text>
<line x1="564.14" y1="755.2" x2="564.14" y2="752.6" stroke="#222" stroke-width="1"/>
<line x1="588.26" y1="755.2" x2="588.26" y2="751.0" stroke="#222" stroke-width="1"/>
<text x="588.26" y="768.80" text-anchor="middle" font-size="10">1620</text>
<line x1="612.38" y1="755.2" x2="612.38" y2="752.6" stroke="#222" stroke-width="1"/>
<line x1="636.50" y1="755.2" x2="636.50" y2="751.0" stroke="#222" stroke-width="1"/>
<text x="636.50" y="768.80" text-anchor="middle" font-size="10">1600</text>
<line x1="371.6" y1="729.20" x2="375.8" y2="729.20" stroke="#1f78e6" stroke-width="1"/>
<line x1="660.1" y1="729.20" x2="655.9" y2="729.20" stroke="#e0242c" stroke-width="1"/>
<text x="366.20" y="732.80" text-anchor="end" font-size="10" fill="#1f78e6">0.0</text>
<line x1="371.6" y1="703.17" x2="374.20000000000005" y2="703.17" stroke="#1f78e6" stroke-width="1"/>
<line x1="660.1" y1="703.17" x2="657.5" y2="703.17" stroke="#e0242c" stroke-width="1"/>
<line x1="371.6" y1="677.14" x2="375.8" y2="677.14" stroke="#1f78e6" stroke-width="1"/>
<line x1="660.1" y1="677.14" x2="655.9" y2="677.14" stroke="#e0242c" stroke-width="1"/>
<text x="366.20" y="680.74" text-anchor="end" font-size="10" fill="#1f78e6">0.2</text>
<line x1="371.6" y1="651.11" x2="374.20000000000005" y2="651.11" stroke="#1f78e6" stroke-width="1"/>
<line x1="660.1" y1="651.11" x2="657.5" y2="651.11" stroke="#e0242c" stroke-width="1"/>
<line x1="371.6" y1="625.08" x2="375.8" y2="625.08" stroke="#1f78e6" stroke-width="1"/>
<line x1="660.1" y1="625.08" x2="655.9" y2="625.08" stroke="#e0242c" stroke-width="1"/>
<text x="366.20" y="628.68" text-anchor="end" font-size="10" fill="#1f78e6">0.4</text>
<line x1="371.6" y1="599.05" x2="374.20000000000005" y2="599.05" stroke="#1f78e6" stroke-width="1"/>
<line x1="660.1" y1="599.05" x2="657.5" y2="599.05" stroke="#e0242c" stroke-width="1"/>
<line x1="371.6" y1="573.02" x2="375.8" y2="573.02" stroke="#1f78e6" stroke-width="1"/>
<line x1="660.1" y1="573.02" x2="655.9" y2="573.02" stroke="#e0242c" stroke-width="1"/>
<text x="366.20" y="576.62" text-anchor="end" font-size="10" fill="#1f78e6">0.6</text>
<line x1="371.6" y1="546.99" x2="374.20000000000005" y2="546.99" stroke="#1f78e6" stroke-width="1"/>
<line x1="660.1" y1="546.99" x2="657.5" y2="546.99" stroke="#e0242c" stroke-width="1"/>
<line x1="371.6" y1="520.96" x2="375.8" y2="520.96" stroke="#1f78e6" stroke-width="1"/>
<line x1="660.1" y1="520.96" x2="655.9" y2="520.96" stroke="#e0242c" stroke-width="1"/>
<text x="366.20" y="524.56" text-anchor="end" font-size="10" fill="#1f78e6">0.8</text>
<line x1="371.6" y1="494.93" x2="374.20000000000005" y2="494.93" stroke="#1f78e6" stroke-width="1"/>
<line x1="660.1" y1="494.93" x2="657.5" y2="494.93" stroke="#e0242c" stroke-width="1"/>
<line x1="371.6" y1="468.90" x2="375.8" y2="468.90" stroke="#1f78e6" stroke-width="1"/>
<line x1="660.1" y1="468.90" x2="655.9" y2="468.90" stroke="#e0242c" stroke-width="1"/>
<text x="366.20" y="472.50" text-anchor="end" font-size="10" fill="#1f78e6">1.0</text>
<text x="515.85" y="788.20" text-anchor="middle" font-size="11.8">Wavenumber / cm<tspan dx="1.6" dy="-5" font-size="8.4">-1</tspan></text>
<text transform="translate(348.40,599.05) rotate(-90)" text-anchor="middle" font-size="12" fill="#1f78e6"><tspan font-style="italic">A</tspan> / a.u.</text>
<text transform="translate(683.10,597.45) rotate(-90)" text-anchor="middle" font-size="12.3" fill="#e0242c">∂<tspan font-size="8.6" dy="-4.6">2</tspan><tspan dy="4.6" font-style="italic">A</tspan> / ∂<tspan font-style="italic">ṽ</tspan><tspan font-size="8.6" dy="-4.6">2</tspan></text>
<text x="339.8" y="426.3" font-family='"Liberation Serif", serif' font-size="28">d)</text>
</svg></body></html>
